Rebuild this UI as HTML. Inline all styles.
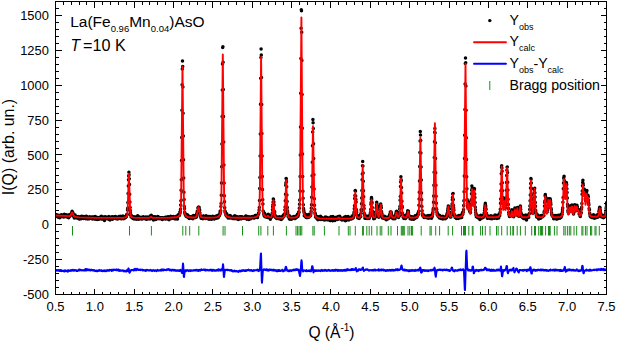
<!DOCTYPE html>
<html><head><meta charset="utf-8"><style>
html,body{margin:0;padding:0;background:#fff;}
svg{display:block;}
text{font-family:"Liberation Sans",sans-serif;}
</style></head><body>
<svg width="618" height="344" viewBox="0 0 618 344">
<rect width="618" height="344" fill="#fff"/>
<defs><clipPath id="c"><rect x="55" y="1" width="552" height="294"/></clipPath></defs>
<g clip-path="url(#c)">
<path d="M72.5 226v9.5M129.5 226v9.5M151.4 226v9.5M182.8 226v9.5M185.8 226v9.5M189.7 226v9.5M198.8 226v9.5M223.1 226v9.5M225 226v9.5M242.5 226v9.5M258.7 226v9.5M260.9 226v9.5M267.8 226v9.5M273.4 226v9.5M286.4 226v9.5M296 226v9.5M297.4 226v9.5M299 226v9.5M300.4 226v9.5M301.8 226v9.5M312.9 226v9.5M314.2 226v9.5M324.4 226v9.5M339 226v9.5M348.3 226v9.5M350 226v9.5M355.3 226v9.5M362.6 226v9.5M363.4 226v9.5M366.8 226v9.5M369.2 226v9.5M371.7 226v9.5M377 226v9.5M380.2 226v9.5M381.8 226v9.5M388.3 226v9.5M391 226v9.5M397.5 226v9.5M401.3 226v9.5M402.3 226v9.5M403.3 226v9.5M404.3 226v9.5M408 226v9.5M409.8 226v9.5M411.5 226v9.5M412.6 226v9.5M421.2 226v9.5M430 226v9.5M431.2 226v9.5M435.7 226v9.5M439.6 226v9.5M448.2 226v9.5M452.6 226v9.5M461.5 226v9.5M463.5 226v9.5M464.5 226v9.5M465.5 226v9.5M468.8 226v9.5M472.3 226v9.5M473 226v9.5M480.6 226v9.5M482.5 226v9.5M485.3 226v9.5M490 226v9.5M496.5 226v9.5M498.1 226v9.5M501.7 226v9.5M507.2 226v9.5M510.4 226v9.5M512.8 226v9.5M513.6 226v9.5M517.2 226v9.5M520.4 226v9.5M525.3 226v9.5M531.7 226v9.5M534.5 226v9.5M535.5 226v9.5M538.7 226v9.5M540.4 226v9.5M541.5 226v9.5M542.6 226v9.5M545.6 226v9.5M548.5 226v9.5M549.5 226v9.5M550.2 226v9.5M554.4 226v9.5M557 226v9.5M563.8 226v9.5M565.2 226v9.5M567.4 226v9.5M569.3 226v9.5M570.8 226v9.5M574 226v9.5M576.7 226v9.5M581.9 226v9.5M582.9 226v9.5M585.4 226v9.5M587 226v9.5M590.5 226v9.5M591.7 226v9.5M595 226v9.5M596 226v9.5M599.3 226v9.5" stroke="#1a8c1a" stroke-width="1" fill="none"/>
<path d="M54.5 270.7L54.8 269.9L55 270.4L55.5 270.6L55.8 269.9L56 270.7L56.2 270.2L56.5 270.1L57 270.4L57.5 270.3L57.8 270.6L58 270.1L58.2 270.1L58.5 270.7L58.8 270.6L59 270.8L59.2 270.1L59.5 270.7L59.8 270.6L60 271L60.2 270.1L60.5 270.6L60.8 270.5L61 270.2L61.2 270.4L61.5 271.1L61.8 270.7L62 270.5L62.2 271L62.8 271.1L63 270.7L63.5 271.2L63.8 270.8L64 270.7L64.5 271.5L64.8 270.7L65 270.2L65.8 271L66 271.2L66.5 270.7L66.8 270.9L67 270.5L67.2 270.8L67.5 270.6L67.8 271.8L68.2 270.5L68.5 270.5L68.8 270.7L69 270.4L69.2 270.7L69.5 270.7L69.8 271L70 270.6L70.5 270.3L70.8 270.2L71 270.6L71.2 270.4L71.5 270.8L71.8 270.1L72 270.6L72.5 270.4L72.8 269.7L73 269.9L73.2 270.4L73.5 270.7L73.8 270.4L74 270.5L74.2 270.1L74.8 270L75 270.6L75.2 270.4L75.8 270.2L76 270.6L76.2 270.6L76.5 270.3L76.8 271L77 270.6L77.2 270.5L77.5 270.9L78 270.4L78.2 270.6L78.5 270L78.8 270.2L79 269.6L79.2 270.5L79.5 269.5L79.8 270.4L80 269.9L80.2 269.7L80.5 270L81 270.2L81.2 270.5L81.5 270.1L81.8 270.2L82 270L82.2 270.3L82.5 270.4L82.8 270.2L83 270.3L83.8 270.4L84 270.1L84.2 270L84.5 270.4L84.8 269.6L85 269.9L85.2 270.5L85.5 269L86 270L86.2 269.2L86.5 270.5L86.8 268.9L87 270.1L87.2 270.2L87.8 269.6L88 269.8L88.2 269.5L88.5 270.1L88.8 269.6L89.2 270.2L89.5 269.8L89.8 269.9L90 270.1L90.2 269.8L90.5 270.5L90.8 270.3L91 269.7L91.2 270.1L91.5 269.8L92 270.2L92.2 270L92.5 270.4L92.8 270L93 270.5L93.2 270.3L93.5 270.6L93.8 270.1L94 270.2L94.2 270.1L94.5 270.6L94.8 270.7L95 271.1L95.2 271L95.5 270.7L95.8 270.6L96 270.9L96.2 270.8L96.5 271.2L96.8 271.1L97 270.6L97.2 270.7L97.5 271.2L98 270.5L98.2 271L98.5 270.5L99 270.4L99.2 270L99.5 270.8L99.8 270.3L100 270.4L100.2 270.3L100.5 270.8L100.8 270.6L101 270.8L101.2 270.4L101.5 270.9L101.8 270.3L102 270.8L102.2 270.8L102.5 270.7L102.8 271.2L103 270.7L103.2 270.7L103.5 270.5L103.8 270.5L104 270.8L104.2 271L104.5 270.3L104.8 271.2L105 271L105.2 271.1L105.5 271.1L105.8 270.5L106 270.4L106.2 271.3L106.8 270.3L107 270.8L107.2 270.6L107.8 270L108.2 270.8L108.8 270.5L109.2 270.7L109.5 269.8L109.8 270.3L110.2 270L110.5 270.3L110.8 270.3L111 270.2L111.2 269.7L111.8 271L112 270L112.2 269.7L112.5 270.2L112.8 270.3L113 270.3L113.2 269.7L113.5 270.4L113.8 269.8L114 269.6L114.2 269.7L114.8 270L115 269.9L115.2 269.7L115.5 270L115.8 269.7L116 270.1L116.2 269.4L116.5 269.4L116.8 270.2L117 269.4L117.2 269.8L118 269.8L118.2 270.5L118.5 269.4L118.8 270.5L119 270.9L119.2 270.3L119.5 270.3L119.8 270.5L120 270.9L120.2 270.1L120.5 270.5L120.8 270.4L121 270.7L121.5 270.7L121.8 270.4L122 270.6L122.2 270.4L123 270.6L123.2 270.5L123.5 271.3L124 270.6L124.2 271.4L124.5 270.9L124.8 271.2L125 271.1L125.5 271.2L125.8 271L126 271L126.2 271.6L126.5 270.3L126.8 270.9L127 271.2L127.5 270.3L127.8 271L128 269.4L128.2 269.3L128.5 268.4L128.8 269L129.2 271.9L129.5 272.8L129.8 272.5L130.2 271L130.5 271L130.8 270.8L131 270.1L131.2 270L131.5 270.3L131.8 270L132 270L132.2 269.9L132.8 270.2L133 270.2L133.2 269.8L133.5 270.4L133.8 269.6L134 270.6L134.2 269.9L134.5 269.8L134.8 269.5L135 268.7L135.2 269.5L135.5 269.7L135.8 270.2L136 269.2L136.2 270.3L136.5 269.6L136.8 269.8L137 268.8L137.2 269.5L137.5 269.5L137.8 269.8L138.2 269.4L138.5 270L139 269.9L139.2 270.1L139.5 270.1L140 269.5L140.2 269.5L140.5 270.2L140.8 270L141 269.8L141.8 269.8L142.2 269.6L142.5 270.5L142.8 270.1L143 270.1L143.2 269.9L143.5 270L143.8 270.3L144 270.5L144.2 270.2L144.8 270.2L145 270L145.2 270.7L145.5 270.4L145.8 271L146 270L146.2 270.1L146.5 270.3L147 269.7L147.5 270.3L147.8 270.3L148 270.1L148.2 270.4L148.5 270.5L148.8 270.2L149.2 270.2L149.8 270.5L150 270.2L150.2 270.3L150.8 269.9L151 270.1L151.2 270.7L151.5 270.6L151.8 271L152 270.6L152.5 270.9L152.8 270.6L153 270.1L153.5 270.5L153.8 270.3L154 270.7L154.2 270.8L154.5 270.4L154.8 271L155 270.4L155.8 270.2L156 270.6L156.2 270.6L156.5 271.1L156.8 270.7L157 270.6L157.5 269.9L157.8 270.3L158 270L158.2 270.5L158.5 270.2L158.8 270.8L159 270.4L159.2 270.4L159.8 270.2L160.2 270.4L160.5 269.9L160.8 270.2L161 270.7L161.2 269.9L161.8 269.6L162 269.3L162.2 270.2L162.5 269.9L162.8 269.9L163 270.3L163.2 270.5L163.5 269.5L163.8 270L164.8 269.7L165 270.1L165.2 269.9L165.8 270L166.5 269.6L166.8 270.2L167 269.7L167.2 269.6L167.5 269.3L167.8 269.5L168 269.4L168.2 269.7L168.5 269.7L168.8 269.1L169 269.8L169.5 269.9L169.8 269.6L170 270.4L170.2 269.9L170.5 269.7L170.8 269.8L171.2 270.4L171.5 270.6L172 269.8L172.2 270.1L172.5 269.9L172.8 270.2L173 269.7L173.2 270.2L173.5 270.5L173.8 270.2L174 270.4L174.5 269.8L174.8 270.1L175 270.7L175.2 270.7L175.5 270.2L175.8 270.7L176 270.3L176.2 270.8L176.8 270.3L177 270.9L177.2 270.4L177.8 270.2L178 270.7L178.2 270.6L178.5 270.6L178.8 270.4L179 271L179.2 270.4L179.5 270.3L179.8 270.9L180 270.8L180.5 269.9L181 270.6L181.2 270.8L181.5 271.9L181.8 271.9L182 273L182.2 271.9L182.5 270L182.8 265.8L183 263.6L183.2 265.1L183.8 276.2L184 277.1L184.5 272.9L184.8 271.6L185.2 270.2L185.5 270.4L185.8 270.5L186 271.2L186.2 270.9L186.5 270.9L186.8 270.6L187 269.9L187.2 270.4L187.5 270.2L187.8 270.7L188 270.7L188.2 270.4L188.5 270.5L188.8 271.1L189 270.2L189.5 270.6L189.8 270.4L190.5 271.1L190.8 270.3L191 270.7L192 270.4L192.2 270.8L192.5 270.5L193 270.5L193.5 270.3L193.8 270.6L194 270.3L194.2 270.4L194.8 269.9L195.2 269.9L195.5 270.4L196 269.8L196.2 270.2L196.5 270.3L196.8 269.7L197 270.8L197.2 270.2L197.5 270.1L197.8 270.6L198.2 270.1L198.5 271L198.8 270L199.2 270.5L199.5 269.9L199.8 270.2L200 270.2L200.2 270.7L200.5 269.8L200.8 269.9L201 270.2L201.5 269.4L201.8 270L202 269.8L202.2 269.8L202.5 270L202.8 270L203 269.8L203.2 269.8L203.5 269.5L203.8 269.8L204 269.9L204.2 269.6L204.5 269.8L204.8 269.6L205 270.3L205.2 270.5L205.5 269.7L205.8 270L206 269.9L206.2 270.4L206.8 270L207 270L207.2 270.1L207.5 269.9L207.8 270.3L208 270L208.2 270.3L208.5 270.2L208.8 270.5L209 270.2L209.2 270.5L209.5 269.9L209.8 270.3L210 270.1L210.2 270.2L210.5 270.1L210.8 270.4L211 269.6L211.2 270.5L211.5 270L211.8 270.8L212 269.8L212.2 270.2L212.5 269.9L212.8 270.9L213 270L213.2 270.4L213.5 270.2L213.8 269.8L214 270.4L214.2 270.6L214.5 270.4L214.8 270.6L215 270.2L215.2 270.4L215.5 270.3L215.8 270.5L216 270.8L216.2 270.4L216.5 270.3L216.8 270L217 269.9L217.2 270.5L217.5 269.8L218 270L218.2 269.9L218.5 270.6L218.8 269.3L219 270.2L219.2 270.3L219.5 269.8L220 270.2L220.2 270.6L220.5 269.8L220.8 269.6L221 270.4L221.2 270.4L221.8 269.1L222 270.2L222.5 268.6L223 264.3L223.2 265.3L223.8 276L224 277.1L224.2 275.6L224.8 270.8L225 269.8L225.2 269.9L226.5 269.8L226.8 270L227 269.7L227.2 269.9L227.5 269.8L227.8 270.3L228 270L228.2 269.8L228.5 270L228.8 270L229 270.1L229.2 270L229.5 270.4L229.8 270.4L230 270.1L230.2 270.1L230.5 270.6L230.8 270.5L231.2 270L231.5 270L231.8 270.8L232 271.1L232.2 271.2L232.5 270.7L232.8 271.5L233 271.1L233.2 271.4L233.5 271.4L233.8 271.1L234 271.1L234.2 270.6L234.5 271.1L234.8 270.7L235 271.3L235.2 271.2L235.5 271.4L236 270.9L236.2 271.2L236.5 271.1L236.8 271.5L237 271.4L237.2 271.1L237.5 271.6L238 271.4L238.2 271.8L238.5 272L238.8 271.4L239 271.4L239.2 270.8L239.5 271.3L239.8 271.2L240 270.6L240.2 271.3L240.5 271.4L240.8 270.9L241 271L241.2 270.8L241.5 271.1L241.8 270.2L242 270.4L242.2 271.1L242.5 270.5L242.8 270.6L243 270.5L243.2 270.1L243.5 270.5L243.8 270.7L244 270.3L244.2 270.9L244.5 271.1L244.8 271L245 270.3L245.2 270.5L245.5 270.2L245.8 271L246 271L246.2 270.9L246.5 270.3L246.8 270.1L247 270.5L247.2 270.4L247.5 270L247.8 270.3L248 270.3L248.8 269.6L249 270.2L249.2 270.5L249.8 270.3L250 270.2L250.2 270.6L250.5 270.2L250.8 270.2L251 270L251.2 270.2L251.5 270.6L251.8 270.3L252 270.3L252.2 270.4L252.5 271L252.8 270.7L253 271.1L253.2 270.6L253.5 270.5L253.8 270L254 270.2L254.2 270.6L254.5 270.2L254.8 270.4L255 270.4L255.2 270.2L256 270.3L256.5 270.2L256.8 270.2L257 269.8L257.2 269.9L257.5 269.7L257.8 270.4L258 269.6L258.5 271.1L258.8 270.1L259 269.9L259.2 270.1L259.5 270.5L260 269L260.2 265.4L260.8 254.4L261 253.4L261.8 280.8L262 282.7L262.8 271.1L263.2 269.9L263.5 269.8L263.8 269.4L264 269.6L264.2 269.6L264.5 269.8L264.8 269.4L265 269.8L265.2 270L265.5 269.7L265.8 269.9L266 269.7L266.2 270.3L266.5 269.2L266.8 269.9L267 269.5L267.5 270.5L267.8 269.9L268 270.1L268.2 269.8L268.5 270.6L268.8 270.3L269 270.4L269.2 269.5L269.5 269.5L269.8 270.2L270 269.9L270.5 270L270.8 269.5L271 270.2L271.2 269.8L271.5 270L271.8 269.7L272 270.2L272.2 269.9L272.5 270.3L272.8 270.6L273 270.5L273.5 270.4L273.8 269.6L274 270.7L274.2 270.4L274.5 270.6L274.8 270.4L275 270.1L275.2 270.2L275.8 270.9L276 270.3L276.2 270.2L276.5 271L276.8 270.4L277 271.4L277.2 270.7L277.5 270.4L277.8 270.9L278 271L278.2 270.1L278.5 270.9L278.8 270.4L279 270.9L279.5 270.1L279.8 270.7L280 270.8L280.2 271.1L280.5 271.1L280.8 270.7L281 270.5L281.2 270.5L281.5 270.6L281.8 270.4L282 270.6L282.2 269.8L282.5 270.7L282.8 270.5L283 271.4L283.2 270.8L283.5 270.6L283.8 270.9L284 270.3L284.2 270.5L284.5 269.9L284.8 270.7L285 269.9L285.5 267.7L285.8 266.9L286 266.8L286.8 269.5L287.2 270.8L287.5 270.4L287.8 270.4L288 271L288.2 270.4L288.5 271.1L288.8 270.8L289 270.9L289.2 271.2L289.5 270.8L289.8 270.6L290 270.1L290.2 270.1L290.8 270.8L291 270.7L291.2 271.1L291.5 270.4L291.8 270.3L292 270.5L292.2 270.3L292.5 270.4L292.8 270.1L293 270.5L293.2 269.8L293.5 270.3L293.8 269.6L294 270.2L294.2 269.7L294.5 270.3L294.8 269.6L295.2 270.3L295.5 269.7L295.8 270L296 269.7L296.2 269.1L296.5 269.8L296.8 269.9L297 269.4L297.2 269.9L297.5 269.4L297.8 269.5L298 269.9L298.2 269.7L298.5 270.6L298.8 269.8L299.2 272.7L299.5 273.7L299.8 275.4L300 276.1L300.5 272.7L300.8 270.3L301.2 262.8L301.5 260.3L301.8 262L302.2 268.8L302.5 270.7L302.8 270.7L303 271.5L303.2 271.1L303.5 270.9L303.8 270.2L304 270.5L304.8 270.4L305 270.8L305.5 271L305.8 270.7L306 271.2L306.2 271L306.5 270.1L306.8 270.6L307.2 271.1L307.5 270.8L308 270.6L308.2 271L308.5 270.7L309 270.5L309.2 271L309.8 270.3L310 271.2L310.2 270.8L310.5 271.1L310.8 271L311 271.2L311.2 270.9L311.8 268.5L312 266.7L312.2 266.3L312.5 266.2L313.5 272.4L314.2 271L314.5 270.9L314.8 270.7L315 270.1L315.2 270.9L315.5 270.4L315.8 270.4L316 271.1L316.8 270.3L317 270.7L317.2 270.9L317.8 270.4L318 270.4L318.2 270.3L318.5 270.8L318.8 270.9L319 270.9L319.2 270.4L319.8 270.6L320 270.2L320.2 270.4L320.5 271.1L320.8 270.5L321 270.7L321.2 270.2L321.5 270.4L321.8 269.9L322.2 270.7L322.5 270.9L322.8 270.6L323 270.7L323.2 270.4L323.5 270.3L324 270.7L324.2 270.2L324.5 270.7L324.8 270.2L325 269.9L325.2 270.1L325.5 269.9L325.8 270L326 270.7L326.2 270.3L327 270.9L327.2 270.4L327.5 270.8L327.8 270.5L328.2 270.5L328.5 269.9L328.8 270.1L329.2 270.6L329.5 270.3L329.8 270.4L330 270.7L330.2 270.9L330.5 270.7L330.8 270.8L331 270.3L331.2 270.3L331.5 270.5L331.8 270.2L332 270.2L332.2 270.8L332.5 270.3L332.8 270.1L333 270.4L333.2 270.9L333.5 270.3L333.8 270.7L334 270.2L334.5 270.1L334.8 270.3L335 270.8L335.2 269.8L335.5 270.7L335.8 269.8L336 270L336.2 270.4L336.8 270.3L337 269.7L337.2 270.4L337.5 270L337.8 271.1L338 270.2L338.2 270.4L338.5 270L338.8 270.2L339 270L339.2 270.6L339.5 270.3L339.8 270.6L340 270.2L340.2 270.2L340.5 270.7L340.8 270.2L341 270L341.2 270.7L341.5 270.2L342 270.8L342.2 270.2L342.5 270.7L342.8 270.2L343 270.9L343.2 270.7L343.5 270.1L343.8 270.1L344 270L344.5 270.7L344.8 269.9L345 270.7L345.2 270L345.5 270L345.8 269.7L346 270.8L346.2 270.1L346.5 270L346.8 269.8L347 270.1L347.2 269.1L347.8 270.2L348 269.4L348.5 269.9L348.8 269.5L349.2 270.2L349.5 269.9L349.8 269.9L350 269.7L350.2 269.8L350.5 269.7L350.8 270.2L351.2 269.6L351.5 269L351.8 269.9L352 269.9L352.5 269.1L352.8 269.3L353 269.9L353.2 269.3L354 270L354.2 269.7L354.8 269.3L355 269.7L355.8 268L356 268.7L356.2 270.1L356.5 270.6L356.8 271.5L357.8 270.2L358 269.8L358.2 269.9L358.5 270.6L358.8 269.3L359 269.5L359.2 269.9L359.5 269.4L360 269.2L360.2 269.8L360.5 270L360.8 269.9L361 269.7L361.2 269.9L361.5 269.2L361.8 269.4L362 268.8L362.2 268.5L362.5 268L363 267.5L363.2 269.3L363.5 270L364 270.9L364.2 270.1L364.5 270.2L364.8 270.1L365 269.8L365.2 270L365.5 269.7L365.8 269.8L366 269.4L366.2 269.8L366.5 269.4L367 269.5L367.2 269.7L367.5 269.3L367.8 269.5L368 270L368.2 270.2L369 270.7L369.2 270.5L369.5 270.5L369.8 270L370.2 270.1L370.8 270.3L371 270.1L371.2 270.1L371.5 270.4L371.8 270.3L372 270.5L372.2 270.2L372.8 270L373 270.4L373.8 269.9L374 270.6L374.2 269.7L374.8 270L375 269.5L375.5 270.5L376 270.2L376.2 270.2L376.5 270.2L376.8 270.3L377.2 269.9L377.8 270.2L378 270.1L378.2 270.3L378.5 269.3L378.8 270.3L379 270.6L379.2 270.4L379.5 269.9L379.8 269.7L380 270.1L380.2 269.8L380.5 270.3L380.8 269.9L381 270.3L381.2 270.5L381.5 269.5L381.8 270.1L382 269.7L382.2 269.7L382.8 269.9L383 270.3L383.2 269.5L383.5 270.3L383.8 270.6L384 270.3L384.2 270.4L384.5 270.2L384.8 269.9L385 270.5L385.5 270.4L385.8 271L386 270.6L386.2 270.4L386.5 270.8L386.8 269.9L387 269.9L387.2 270.3L387.5 270.1L387.8 270.6L388 270.1L388.2 270.7L388.5 270.6L389 270.1L389.2 270.5L389.5 270.5L389.8 269.9L390 270.4L390.2 270.3L390.5 270.1L390.8 270.7L391 270.7L391.2 269.9L391.5 270.1L391.8 269.9L392 270.4L392.2 269.8L392.5 270.5L392.8 270.3L393 270.4L393.2 270.2L393.5 269.8L393.8 270.7L394 270L394.2 270.3L394.5 270L394.8 270L395 270.3L395.2 270L395.5 270.3L395.8 269.3L396 269.9L396.2 269.5L396.5 269.6L396.8 269.9L397 269.9L397.2 270.2L397.5 269.1L397.8 269.7L398 269.5L398.2 270.1L398.5 269.6L398.8 269.9L399 269.6L399.2 269.9L399.5 270L399.8 269.6L400 269.6L400.2 269.2L400.5 269.3L400.8 268.4L401 266.7L401.2 266.4L401.5 265.4L401.8 266.2L402.2 268.9L402.5 269.6L402.8 269.9L403.2 270.2L403.8 269.6L404 269.7L404.2 270.6L404.5 269.4L405 270.5L405.5 269.8L406 270.4L406.2 270.6L406.5 270L406.8 270.3L407 270.3L407.2 270.6L407.5 270.8L407.8 270.3L408 270.1L408.5 271.1L409 270.6L409.2 271.2L409.5 270.2L409.8 270.7L410 270.2L410.5 270.4L410.8 270.9L411 270.2L411.2 270.3L411.5 270L411.8 270.7L412 270.3L412.2 270.6L412.5 270.1L412.8 270.3L413 270.7L413.2 270.3L413.5 270.7L413.8 270.7L414.2 270.1L414.5 270.8L414.8 270.6L415 270.9L415.2 269.9L415.5 269.9L415.8 269.8L416.2 270.7L417 270.3L417.2 270.5L417.5 270.1L417.8 270.3L418 270.2L418.2 269.5L418.8 270.6L419 270.1L419.2 269.9L420 268.2L420.2 267.5L420.5 268.1L420.8 269.4L421 272.2L421.2 272.6L421.5 272.3L421.8 272.2L422 271.4L422.2 270L422.5 270.6L423 270.2L423.2 270.7L423.5 270L423.8 270.2L424 270.1L424.2 270.3L424.5 270.9L424.8 270.2L425 270.1L425.2 270.3L425.5 270.7L425.8 270.6L426 270.9L426.2 270.5L426.5 270.2L427 270.7L427.2 270.4L427.8 271.2L428 270.4L428.2 270.6L428.5 271L428.8 270.3L429.2 270.2L429.5 270.6L429.8 270.6L430 270.3L430.2 270.3L430.5 270.6L430.8 270.5L431 269.8L431.2 270.1L431.8 270.5L432 270.2L432.5 270L432.8 269.6L433 270.2L433.2 270L433.5 270.2L433.8 269.5L434 269.3L434.5 267.6L434.8 268.3L435 269.9L435.2 273.3L435.5 275.6L435.8 276.8L436.5 271.4L437 270.2L437.2 269.9L437.5 270.2L437.8 270L438.2 270.2L438.5 269.8L438.8 269.8L439 269.9L439.2 269.5L439.5 269.8L440 270L440.5 269.6L440.8 269.8L441 269.8L441.2 270.2L441.5 269.7L441.8 269.7L442 270L442.2 269.7L442.5 269.9L442.8 270.5L443.5 269.9L443.8 269.6L444 269.9L444.2 269.7L444.8 269.6L445 269.9L445.2 269.8L445.8 270.3L446 270.1L446.2 269.6L446.5 269.8L446.8 269.5L447 269.8L447.2 270.2L447.5 270.3L447.8 270L448 270.4L448.5 270.1L448.8 270.1L449 270.2L449.2 270.9L449.5 270.1L449.8 270.9L450 270.9L450.2 270.4L450.5 270.4L451 269.9L451.2 269.3L451.5 268L451.8 267.6L452 267.6L452.2 267.9L452.5 269L453 270.6L453.2 270.3L453.5 270.9L453.8 270.8L454 270.5L454.2 271.4L454.5 270.6L454.8 270.5L455 270.9L455.2 270.1L455.5 270.4L455.8 270.1L456 270.2L456.8 270.8L457 270.7L457.2 270.9L457.8 270.1L458 270.4L458.2 269.8L458.5 269.8L458.8 270.3L459.2 269.9L459.5 270.1L459.8 270.2L460 269.5L460.2 269.8L460.5 269.4L460.8 269.9L461 269.7L461.2 270.3L461.5 270.1L461.8 269.7L462 269.9L462.2 269.7L462.5 270L462.8 270L463 269.9L463.2 269.3L463.8 270.3L464 271.8L464.2 276L464.8 289.6L465 290L465.2 284L466 258.5L466.2 251.9L466.5 250.6L467 263.8L467.2 267.8L467.5 269.2L467.8 269.8L468.2 270.5L468.5 270.4L468.8 270.4L469 269.6L469.2 270.2L469.5 270.3L470 270.4L470.2 270.1L470.5 270.8L470.8 270.7L471 270.2L471.2 270L471.5 270.6L471.8 269.7L472 269.6L472.2 268.9L472.5 266.9L472.8 266.5L473 266.6L473.8 273.3L474 273.2L474.2 272.4L474.5 271.9L474.8 270.9L475 270.5L475.2 271.1L475.5 270.1L476 270.5L476.5 269.8L476.8 270.8L477 270.2L477.2 270.4L478 270.1L478.2 270.5L478.5 271.2L478.8 270.6L479 270.7L479.2 269.9L479.5 270.4L479.8 270L480 270.5L480.2 270.2L481 270.1L481.2 269.6L481.5 270.4L481.8 269.8L482.2 270.3L482.5 270L483 270.3L483.2 270L483.5 269.8L483.8 269.7L484 269.9L484.2 269L484.5 269.4L485 267.8L485.5 267.7L486 269.1L486.2 268.6L486.8 270.3L487 270L487.2 270.1L487.8 269.3L488 269.6L488.2 270.2L488.5 270.3L488.8 269.8L489.2 270.2L489.5 269.5L489.8 269.9L490 270.7L490.2 270.9L490.5 270.2L490.8 270.8L491 270L491.2 269.9L491.5 269.5L491.8 270.4L492 270.1L492.2 270.9L492.5 270.5L492.8 270.4L493 269.8L493.2 270.8L493.5 270.4L493.8 270.4L494 269.9L494.2 270.8L494.5 270.7L494.8 270.3L495 270.5L495.5 270.7L495.8 270.4L496 270.8L496.2 270.2L496.8 270.1L497 269.4L497.5 270.4L498 270L498.2 270.4L498.5 269.5L498.8 270.2L499.2 270.4L499.5 270L499.8 270.5L500 270.6L500.2 269.6L500.5 269.2L500.8 267.4L501 266.5L501.2 268.1L501.8 274.1L502 276.2L502.2 276.4L503.2 270L503.5 270.5L503.8 270.4L504 270.4L504.2 270.2L504.5 270.8L504.8 270.1L505 270.3L505.2 269.5L505.5 269.8L506 269L506.2 267.9L506.5 266.1L507 266.3L507.5 272L507.8 272.9L508 273.2L508.5 270.9L508.8 271.1L509 270.3L509.2 270.3L509.5 269.9L509.8 269.8L510.2 270.1L510.5 270L510.8 270.5L511 269.6L511.2 269.9L511.5 269.6L511.8 270.6L512 270L512.2 270L512.5 269.6L512.8 269.8L513 268.8L513.2 268.6L513.5 267.9L513.8 269.4L514.5 272.4L515 271.4L515.2 271L516.2 268.5L516.5 268.5L517 269L517.2 270.2L517.5 269.8L518 271.8L518.5 271.9L518.8 272.5L519.2 270.5L519.5 270.8L519.8 270L520 269.9L520.2 270.1L520.5 270.1L520.8 269.9L521 270L521.2 269.9L521.5 270.2L521.8 270.2L522 270.5L522.5 270L522.8 270L523.2 270.8L523.5 270.6L523.8 270.2L524 270.5L524.2 269.8L524.5 270.3L524.8 270L525 270.3L525.2 270.3L525.5 270L525.8 270.1L526 269.7L526.5 270.4L526.8 271.3L527 270.3L527.5 269.7L527.8 270.3L528 269.5L528.5 270.1L528.8 269.6L529 270.5L529.2 270.4L529.5 269.8L529.8 269.4L530.2 267.2L530.5 267.3L530.8 268.2L531.2 272.7L531.5 273.6L531.8 273.6L532 271.9L532.2 271.1L532.8 270.6L533 269.8L533.2 269.9L533.8 270.6L534 269.6L534.5 270.1L534.8 270.5L535 269.9L535.2 270.3L535.5 270.1L535.8 270.9L536 270.4L536.5 270L536.8 270.5L537 270.4L537.2 269.9L537.5 270.4L537.8 269.8L538 270L538.2 269.7L538.5 269.8L538.8 270L539 269.9L539.2 270.2L539.5 270.2L540 269.8L540.2 270.4L540.5 269.6L540.8 269.6L541 270.3L541.2 270.3L541.5 270.4L542 269.6L542.5 270.3L542.8 269.8L543 269.9L543.2 269.7L543.5 269.9L543.8 270.5L544 270.4L544.2 270L544.8 270.1L545 270.4L545.2 270L545.5 270.4L545.8 269.8L546 270L546.2 270.5L546.5 270.7L546.8 270.1L547 270.2L547.2 270.7L547.5 270.3L547.8 270.4L548 270.7L548.2 270.7L548.5 270.9L548.8 270.8L549 270.4L549.2 270.5L549.5 270.5L549.8 269.9L550 269.8L550.2 270.4L550.5 269.5L550.8 270.4L551 270.2L551.2 270L551.5 270.3L551.8 270.2L552 270.4L552.2 269.9L552.5 270L552.8 269.9L553 270.5L553.2 270.3L553.5 269.8L553.8 269.9L554 269.8L554.2 270.1L554.5 270.2L554.8 270.8L555 269.5L555.2 270.4L555.5 270.1L555.8 269.6L556 269.9L556.2 269.9L556.8 270.5L557 269.7L557.2 270.5L557.5 270L557.8 270.5L558 270.2L558.2 270.4L558.5 270.1L558.8 270.4L559 270.1L559.2 270L559.5 270.6L559.8 270.6L560 271.1L560.2 269.8L560.8 270.7L561 270L561.2 270.3L561.5 271L561.8 270.9L562 270.3L562.2 270.9L563.2 270.7L563.5 270.1L563.8 270L564 269.6L564.2 268.4L564.5 267.9L564.8 266.9L565 267.3L565.5 271L565.8 271.8L566 271.5L566.2 270.7L566.5 271L566.8 270.1L567 270.4L567.5 269.8L567.8 270.6L568 269.4L568.5 270.3L568.8 269.9L569 270.1L569.2 269.7L569.5 269.4L569.8 270.3L570 269.6L570.2 269.8L570.5 269.7L570.8 269.8L571 270.3L571.2 270.4L571.8 270L572 270.5L572.2 269.8L572.5 270.1L573 269.9L573.2 270.1L573.5 269.9L573.8 269.8L574 270.7L574.2 270.3L574.5 270.4L574.8 270.2L575 270.3L575.5 270.4L575.8 270.8L576 270.1L576.2 270.2L576.5 270.2L576.8 269.2L577.2 270.4L577.5 270.6L577.8 270.2L578 270.7L578.2 270.9L578.5 270.3L578.8 270.9L579 271.2L579.2 270.9L579.5 270.4L579.8 271L580 270.6L580.2 270.4L580.5 270.4L580.8 270.2L581 270.6L581.5 270.2L581.8 269.1L582.2 266L582.5 265.9L582.8 266.9L583 270.6L583.5 273.2L583.8 273.3L584.2 271.1L584.5 270.6L585 270.8L585.2 270.7L585.5 270.4L585.8 270.6L586 270.5L586.2 270.6L586.5 269.4L586.8 270L587.2 270L587.8 270.5L588 270.5L588.2 270.2L588.5 270.3L588.8 270.8L589 269.9L589.2 270.2L589.5 270.6L589.8 270.3L590 269.5L590.2 270.3L590.5 270.2L591 270.6L591.2 270.4L591.5 270.1L591.8 270.5L592.2 270.2L592.5 270.2L592.8 270.2L593 269.9L593.5 270L594 269.6L594.2 270.3L594.5 269.8L595 269.7L595.2 269.8L595.8 269.8L596 269.6L596.2 270.1L596.5 269.6L596.8 270.1L597 269.3L597.5 270.2L597.8 269.8L598 269.6L598.2 269.8L598.5 269.5L598.8 269.8L599 269.1L599.2 269.6L599.5 269.6L599.8 269.8L600 269.9L600.2 269.3L600.5 270L600.8 269.2L601 268.9L601.2 268.7L601.5 269.9L601.8 269.4L602.5 269.1L602.8 269.9L603 269.5L603.2 270.2L603.8 268.9L604 269.9L604.2 269.5L604.5 269.6L604.8 270.1L605 269.6L605.2 269.9L605.5 269.6L605.8 269.5L606 269.9L606.2 269.6L606.5 270.2L606.8 270.1L607 269.7L607.5 269.7L607.8 269.6" stroke="#0000ff" stroke-width="2" fill="none" stroke-linejoin="round"/>
<path d="M54.5 215.5h0M54.7 215.3h0M54.9 215.8h0M55.1 216.3h0M55.3 215.9h0M55.5 216.4h0M55.7 215.5h0M55.9 214.4h0M56.1 216h0M56.3 216.1h0M56.5 215.2h0M56.7 215.3h0M56.9 215.5h0M57.1 216.4h0M57.3 215.6h0M57.5 215h0M57.7 216.7h0M57.9 216h0M58.1 217.2h0M58.3 216.7h0M58.5 217.2h0M58.7 215.8h0M58.9 216.7h0M59.1 215.4h0M59.3 215.5h0M59.5 215.8h0M59.7 217.8h0M59.9 216.1h0M60.1 215.7h0M60.3 215.6h0M60.5 217h0M60.7 216.1h0M60.9 216.5h0M61.1 216.4h0M61.3 214.8h0M61.5 216.4h0M61.7 215.8h0M61.9 215h0M62.1 216.2h0M62.3 215.9h0M62.5 215.7h0M62.7 215.7h0M62.9 216.8h0M63.1 215.7h0M63.3 214.7h0M63.5 217.1h0M63.7 215.1h0M63.9 215.7h0M64.1 216.4h0M64.3 214.2h0M64.5 215.2h0M64.7 216.8h0M64.9 215.8h0M65.1 215.4h0M65.3 216h0M65.5 215.3h0M65.7 216h0M65.9 215.4h0M66.1 214.8h0M66.3 216.5h0M66.5 215.8h0M66.7 216.4h0M66.9 215.9h0M67.1 217h0M67.3 216.5h0M67.5 216.2h0M67.7 215.3h0M67.9 215.1h0M68.1 217.2h0M68.3 216.8h0M68.5 215.6h0M68.7 217.8h0M68.9 216.5h0M69.1 216.2h0M69.3 215h0M69.5 215.4h0M69.7 216.2h0M69.9 216.1h0M70.1 215.9h0M70.3 214.2h0M70.5 215.5h0M70.7 215h0M70.9 214.1h0M71.1 214h0M71.3 213.6h0M71.5 214h0M71.7 212.6h0M71.9 212.8h0M72.1 211.3h0M72.3 211.8h0M72.5 212.7h0M72.7 212.5h0M72.9 213.9h0M73.1 213.2h0M73.3 214.7h0M73.5 214.6h0M73.7 216.6h0M73.9 215.5h0M74.1 217.5h0M74.3 218h0M74.5 216.7h0M74.7 217.3h0M74.9 216.5h0M75.1 214.9h0M75.3 217.5h0M75.5 217.4h0M75.7 216.7h0M75.9 216.5h0M76.1 217.1h0M76.3 217.2h0M76.5 216.5h0M76.7 216.6h0M76.9 217.9h0M77.1 217.2h0M77.3 217.1h0M77.5 218h0M77.7 217h0M77.9 217.9h0M78.1 216.5h0M78.3 217.1h0M78.5 217.2h0M78.7 217.8h0M78.9 217.4h0M79.1 219h0M79.3 218.3h0M79.5 217.1h0M79.7 219.1h0M79.9 216.7h0M80.1 218.8h0M80.3 216.8h0M80.5 218.1h0M80.7 216.8h0M80.9 217.3h0M81.1 218.7h0M81.3 216.5h0M81.5 216.3h0M81.7 217.5h0M81.9 217.7h0M82.1 217.6h0M82.3 218.3h0M82.5 216.6h0M82.7 217.9h0M82.9 217.6h0M83.1 218.2h0M83.3 218h0M83.5 218.6h0M83.7 216.5h0M83.9 217.7h0M84.1 216.8h0M84.3 217.6h0M84.5 218.1h0M84.7 217.8h0M84.9 218h0M85.1 217.6h0M85.3 217.9h0M85.5 217.8h0M85.7 218.7h0M85.9 218.3h0M86.1 216.3h0M86.3 218.2h0M86.5 218.5h0M86.7 217.4h0M86.9 216.5h0M87.1 218.8h0M87.3 217.8h0M87.5 218.2h0M87.7 219.1h0M87.9 217.1h0M88.1 217.7h0M88.3 217.6h0M88.5 218.3h0M88.7 217.3h0M88.9 218.1h0M89.1 217.8h0M89.3 218.6h0M89.5 218.7h0M89.7 216.7h0M89.9 218.1h0M90.1 217.5h0M90.3 217.8h0M90.5 218.1h0M90.7 218.2h0M90.9 217.3h0M91.1 218h0M91.3 217.9h0M91.5 217.8h0M91.7 216.9h0M91.9 217.3h0M92.1 217.5h0M92.3 218.3h0M92.5 218.9h0M92.7 217.1h0M92.9 217.1h0M93.1 217.9h0M93.3 217.4h0M93.5 217.2h0M93.7 217.2h0M93.9 217.1h0M94.1 218.2h0M94.3 216.7h0M94.5 218.9h0M94.7 217.2h0M94.9 217.5h0M95.1 217.2h0M95.3 216.4h0M95.5 216.7h0M95.7 218.8h0M95.9 219.2h0M96.1 217.2h0M96.3 218.7h0M96.5 217.9h0M96.7 217.2h0M96.9 219.2h0M97.1 219.6h0M97.3 217.7h0M97.5 217.9h0M97.7 218.1h0M97.9 217.9h0M98.1 218.6h0M98.3 219.1h0M98.5 218h0M98.7 218.7h0M98.9 219.2h0M99.1 217.5h0M99.3 217.9h0M99.5 217.6h0M99.7 218.7h0M99.9 218.4h0M100.1 218.7h0M100.3 218.6h0M100.5 217.7h0M100.7 218.5h0M100.9 217.6h0M101.1 217.6h0M101.3 216.3h0M101.5 219h0M101.7 217.2h0M101.9 218h0M102.1 217.9h0M102.3 219h0M102.5 218.3h0M102.7 217.3h0M102.9 218h0M103.1 217.8h0M103.3 218.1h0M103.5 217h0M103.7 217.9h0M103.9 219.6h0M104.1 218.4h0M104.3 219.5h0M104.5 220.5h0M104.7 218.3h0M104.9 216.8h0M105.1 217.9h0M105.3 218.8h0M105.5 218.6h0M105.7 217h0M105.9 217.8h0M106.1 217.9h0M106.3 217.9h0M106.5 217.9h0M106.7 217.3h0M106.9 217.5h0M107.1 217.7h0M107.3 218.7h0M107.5 217.5h0M107.7 218.4h0M107.9 217h0M108.1 218.9h0M108.3 218h0M108.5 217.9h0M108.7 219h0M108.9 216.5h0M109.1 216.7h0M109.3 218.3h0M109.5 217.3h0M109.7 217.6h0M109.9 220h0M110.1 217.7h0M110.3 217.9h0M110.5 217.8h0M110.7 218.8h0M110.9 218.1h0M111.1 218h0M111.3 217h0M111.5 217.6h0M111.7 217.9h0M111.9 216.7h0M112.1 218.3h0M112.3 218.2h0M112.5 219.3h0M112.7 216.7h0M112.9 217.1h0M113.1 217.2h0M113.3 217.4h0M113.5 217.8h0M113.7 217.7h0M113.9 218.1h0M114.1 218.1h0M114.3 217.8h0M114.5 216.7h0M114.7 217.4h0M114.9 217.9h0M115.1 218.3h0M115.3 218.4h0M115.5 216.6h0M115.7 217.5h0M115.9 217.8h0M116.1 218.2h0M116.3 218.8h0M116.5 217.9h0M116.7 217.2h0M116.9 218.2h0M117.1 218.1h0M117.3 218h0M117.5 217.8h0M117.7 219.1h0M117.9 218h0M118.1 218.5h0M118.3 217.2h0M118.5 218.5h0M118.7 217.4h0M118.9 216.6h0M119.1 218.1h0M119.3 218.3h0M119.5 217.7h0M119.7 217.8h0M119.9 218.6h0M120.1 217.5h0M120.3 216.2h0M120.5 218h0M120.7 218h0M120.9 218.6h0M121.1 217.5h0M121.3 218.8h0M121.5 218.7h0M121.7 216.8h0M121.9 218.5h0M122.1 216.9h0M122.3 216.5h0M122.5 217.5h0M122.7 217.3h0M122.9 216.1h0M123.1 217.8h0M123.3 218.1h0M123.5 218.7h0M123.7 217.6h0M123.9 216.4h0M124.1 216.8h0M124.3 218.3h0M124.5 218.2h0M124.7 217.9h0M124.9 217.2h0M125.1 217.5h0M125.3 217.1h0M125.5 217h0M125.7 217.4h0M125.9 217h0M126.1 216.7h0M126.3 216.8h0M126.5 216h0M126.7 214.5h0M126.9 215h0M127.1 214.5h0M127.3 214.4h0M127.5 210h0M127.7 208.3h0M127.9 202.6h0M128.1 193.6h0M128.3 186.1h0M128.5 179.7h0M128.7 175.9h0M128.9 172.2h0M129.1 174.7h0M129.3 178.8h0M129.5 184.4h0M129.7 194.2h0M129.9 201.9h0M130.1 207.6h0M130.3 210.4h0M130.5 213.1h0M130.7 215.5h0M130.9 215.4h0M131.1 217h0M131.3 215.5h0M131.5 215.8h0M131.7 216h0M131.9 217.4h0M132.1 216.7h0M132.3 217.3h0M132.5 217.6h0M132.7 217.6h0M132.9 218.5h0M133.1 218.6h0M133.3 216.9h0M133.5 217.7h0M133.7 217.4h0M133.9 216.8h0M134.1 219h0M134.3 218.3h0M134.5 217.5h0M134.7 217.4h0M134.9 218h0M135.1 216.9h0M135.3 217.6h0M135.5 218.7h0M135.7 218.5h0M135.9 217.1h0M136.1 217.4h0M136.3 219.3h0M136.5 216.7h0M136.7 217.3h0M136.9 216.7h0M137.1 218.1h0M137.3 218.1h0M137.5 218.7h0M137.7 215.8h0M137.9 218h0M138.1 216.6h0M138.3 218.4h0M138.5 217.7h0M138.7 219.2h0M138.9 218.2h0M139.1 217.1h0M139.3 218.9h0M139.5 217h0M139.7 217.6h0M139.9 218.7h0M140.1 218.3h0M140.3 218.2h0M140.5 217.9h0M140.7 218.3h0M140.9 218.5h0M141.1 218.1h0M141.3 218.7h0M141.5 218.9h0M141.7 217.9h0M141.9 217.2h0M142.1 219.1h0M142.3 217.9h0M142.5 218.4h0M142.7 218.7h0M142.9 217.2h0M143.1 218.3h0M143.3 216.7h0M143.5 218.5h0M143.7 217.6h0M143.9 218.1h0M144.1 218.5h0M144.3 217.4h0M144.5 218h0M144.7 217.4h0M144.9 217.9h0M145.1 218.7h0M145.3 218h0M145.5 217.8h0M145.7 217.1h0M145.9 218.6h0M146.1 217.9h0M146.3 219.2h0M146.5 217.4h0M146.7 218.7h0M146.9 219.3h0M147.1 217.9h0M147.3 217h0M147.5 219.1h0M147.7 218.7h0M147.9 218.5h0M148.1 218.8h0M148.3 217.6h0M148.5 218.5h0M148.7 218.4h0M148.9 217.4h0M149.1 218.4h0M149.3 217.4h0M149.5 218.5h0M149.7 218.6h0M149.9 219h0M150.1 215.9h0M150.3 217.5h0M150.5 216.8h0M150.7 216.9h0M150.9 216.6h0M151.1 216.7h0M151.3 215.3h0M151.5 217.9h0M151.7 218.5h0M151.9 218.2h0M152.1 218.6h0M152.3 217.1h0M152.5 217.1h0M152.7 218.5h0M152.9 218.9h0M153.1 218.1h0M153.3 216.7h0M153.5 220.1h0M153.7 217.4h0M153.9 218.7h0M154.1 217h0M154.3 218.7h0M154.5 218.1h0M154.7 219.1h0M154.9 218.6h0M155.1 216.8h0M155.3 217.2h0M155.5 218.2h0M155.7 218.6h0M155.9 219.4h0M156.1 218.2h0M156.3 217.9h0M156.5 217.9h0M156.7 217.9h0M156.9 218.7h0M157.1 217.9h0M157.3 217.9h0M157.5 216.8h0M157.7 216.4h0M157.9 218h0M158.1 218.5h0M158.3 217.9h0M158.5 218.3h0M158.7 218.4h0M158.9 217.9h0M159.1 218.7h0M159.3 217.4h0M159.5 217.9h0M159.7 217.6h0M159.9 218h0M160.1 218.4h0M160.3 218.6h0M160.5 218h0M160.7 218.3h0M160.9 217.7h0M161.1 217.8h0M161.3 218.9h0M161.5 217.8h0M161.7 218.9h0M161.9 218.3h0M162.1 218.1h0M162.3 219.5h0M162.5 217.7h0M162.7 217.7h0M162.9 217.9h0M163.1 218.2h0M163.3 218.1h0M163.5 218.6h0M163.7 218h0M163.9 218.2h0M164.1 217.7h0M164.3 218.8h0M164.5 217.6h0M164.7 217.7h0M164.9 217.9h0M165.1 218.1h0M165.3 217.4h0M165.5 219.1h0M165.7 217.4h0M165.9 217.6h0M166.1 217.6h0M166.3 217.5h0M166.5 218.3h0M166.7 218h0M166.9 217.3h0M167.1 217.4h0M167.3 217.6h0M167.5 219h0M167.7 217.3h0M167.9 216.8h0M168.1 216.9h0M168.3 217.5h0M168.5 219h0M168.7 217h0M168.9 217.8h0M169.1 219.7h0M169.3 217.4h0M169.5 218.9h0M169.7 218.7h0M169.9 218.2h0M170.1 216.7h0M170.3 218h0M170.5 217.5h0M170.7 216.3h0M170.9 216.4h0M171.1 217.7h0M171.3 217.8h0M171.5 218.6h0M171.7 218.2h0M171.9 217.3h0M172.1 217.3h0M172.3 217.5h0M172.5 216.8h0M172.7 218.2h0M172.9 217.6h0M173.1 216.9h0M173.3 217h0M173.5 216.6h0M173.7 217.2h0M173.9 217.7h0M174.1 217.1h0M174.3 218.2h0M174.5 218.7h0M174.7 216.9h0M174.9 217.4h0M175.1 217.1h0M175.3 218.6h0M175.5 217.5h0M175.7 217.7h0M175.9 217.9h0M176.1 218.9h0M176.3 217.3h0M176.5 216.3h0M176.7 216.7h0M176.9 217.4h0M177.1 216.8h0M177.3 216.1h0M177.5 218.9h0M177.7 216.7h0M177.9 216h0M178.1 215.7h0M178.3 214.8h0M178.5 215.1h0M178.7 215.5h0M178.9 215.3h0M179.1 214.6h0M179.3 215.5h0M179.5 214.7h0M179.7 213.4h0M179.9 211.9h0M180.1 212.9h0M180.3 211.5h0M180.5 209.3h0M180.7 204.9h0M180.9 200.7h0M181.1 190.3h0M181.3 179.7h0M181.5 160.5h0M181.7 137.5h0M181.9 110.3h0M182.1 84.7h0M182.3 69.1h0M182.5 61h0M182.7 66.5h0M182.9 87h0M183.1 113.3h0M183.3 136h0M183.5 159.7h0M183.7 178h0M183.9 192.3h0M184.1 199.6h0M184.3 206.4h0M184.5 208.5h0M184.7 212.3h0M184.9 213.5h0M185.1 213.4h0M185.3 214.7h0M185.5 214h0M185.7 214.8h0M185.9 216.1h0M186.1 215.5h0M186.3 216.1h0M186.5 215.2h0M186.7 216.7h0M186.9 216.6h0M187.1 215.4h0M187.3 214.7h0M187.5 215h0M187.7 216.7h0M187.9 216.6h0M188.1 215.6h0M188.3 217h0M188.5 217.8h0M188.7 216.9h0M188.9 216.7h0M189.1 217.8h0M189.3 218.5h0M189.5 218.3h0M189.7 216.7h0M189.9 217.9h0M190.1 217.4h0M190.3 217.1h0M190.5 216.8h0M190.7 217.6h0M190.9 216.9h0M191.1 218.1h0M191.3 217.7h0M191.5 218.2h0M191.7 216.5h0M191.9 217.4h0M192.1 218h0M192.3 217.7h0M192.5 217.6h0M192.7 216.9h0M192.9 218.7h0M193.1 218.3h0M193.3 217.7h0M193.5 215.4h0M193.7 216.6h0M193.9 217.5h0M194.1 216.8h0M194.3 215.7h0M194.5 217.5h0M194.7 217.6h0M194.9 216.3h0M195.1 216.8h0M195.3 216.6h0M195.5 217.4h0M195.7 215.3h0M195.9 215.2h0M196.1 215.8h0M196.3 215.3h0M196.5 217h0M196.7 214.1h0M196.9 214h0M197.1 212.5h0M197.3 211.2h0M197.5 211h0M197.7 211.1h0M197.9 208.1h0M198.1 208.3h0M198.3 207.3h0M198.5 207.4h0M198.7 207.3h0M198.9 209.8h0M199.1 207.3h0M199.3 209.3h0M199.5 209.7h0M199.7 210h0M199.9 212.9h0M200.1 215.4h0M200.3 215.4h0M200.5 216.4h0M200.7 216.3h0M200.9 216.3h0M201.1 218.3h0M201.3 216.6h0M201.5 218.3h0M201.7 217h0M201.9 217.4h0M202.1 217.6h0M202.3 217.5h0M202.5 217.9h0M202.7 218h0M202.9 218.8h0M203.1 217.5h0M203.3 216.1h0M203.5 216h0M203.7 216.5h0M203.9 217h0M204.1 218.1h0M204.3 216.4h0M204.5 217.7h0M204.7 217.7h0M204.9 217.9h0M205.1 217.6h0M205.3 218h0M205.5 217.7h0M205.7 218.5h0M205.9 217.9h0M206.1 215.8h0M206.3 217.7h0M206.5 217.8h0M206.7 217.2h0M206.9 217.1h0M207.1 218.5h0M207.3 217.8h0M207.5 216.9h0M207.7 217.4h0M207.9 217.6h0M208.1 216.4h0M208.3 218.2h0M208.5 217.6h0M208.7 218.1h0M208.9 216.5h0M209.1 219.2h0M209.3 218.2h0M209.5 218.1h0M209.7 217.1h0M209.9 217.1h0M210.1 216.5h0M210.3 218.9h0M210.5 217h0M210.7 217.8h0M210.9 218.1h0M211.1 217.2h0M211.3 218.3h0M211.5 219.2h0M211.7 217.9h0M211.9 218.8h0M212.1 218.1h0M212.3 217.3h0M212.5 217.3h0M212.7 216.3h0M212.9 217.7h0M213.1 218.7h0M213.3 218.1h0M213.5 218.2h0M213.7 218.4h0M213.9 217.1h0M214.1 217.9h0M214.3 219h0M214.5 216.8h0M214.7 217.4h0M214.9 217h0M215.1 217.2h0M215.3 216.8h0M215.5 217.2h0M215.7 216.2h0M215.9 216.8h0M216.1 216.8h0M216.3 216.7h0M216.5 218.2h0M216.7 217.1h0M216.9 217.1h0M217.1 216.7h0M217.3 217.9h0M217.5 215.4h0M217.7 216.5h0M217.9 217.5h0M218.1 217.8h0M218.3 216.5h0M218.5 216.2h0M218.7 216.5h0M218.9 215.6h0M219.1 216h0M219.3 214.8h0M219.5 215.5h0M219.7 214.6h0M219.9 213.3h0M220.1 211.3h0M220.3 213.6h0M220.5 212.1h0M220.7 210.7h0M220.9 206.4h0M221.1 203.6h0M221.3 195.3h0M221.5 182.9h0M221.7 166.8h0M221.9 144.1h0M222.1 116.4h0M222.3 90h0M222.5 64.1h0M222.7 47.5h0M222.9 46.7h0M223.1 62.3h0M223.3 89.6h0M223.5 116.4h0M223.7 141.9h0M223.9 165h0M224.1 182.9h0M224.3 195.7h0M224.5 201.8h0M224.7 207.7h0M224.9 211h0M225.1 212.4h0M225.3 211.5h0M225.5 213.3h0M225.7 213.1h0M225.9 215h0M226.1 214.1h0M226.3 215.7h0M226.5 215.6h0M226.7 213.7h0M226.9 215.3h0M227.1 216.5h0M227.3 216.3h0M227.5 216.1h0M227.7 215.5h0M227.9 217h0M228.1 218.1h0M228.3 217h0M228.5 216.8h0M228.7 216.8h0M228.9 215.9h0M229.1 216.8h0M229.3 216.4h0M229.5 218h0M229.7 216.5h0M229.9 215.5h0M230.1 216.6h0M230.3 217.1h0M230.5 217.2h0M230.7 215.9h0M230.9 218.1h0M231.1 217.5h0M231.3 217h0M231.5 216.8h0M231.7 217.8h0M231.9 217.2h0M232.1 217.7h0M232.3 217.4h0M232.5 217.6h0M232.7 218.5h0M232.9 217.6h0M233.1 216.9h0M233.3 218.3h0M233.5 217.8h0M233.7 217.1h0M233.9 218.5h0M234.1 217.5h0M234.3 218.5h0M234.5 216.7h0M234.7 215.8h0M234.9 216h0M235.1 217.8h0M235.3 217.1h0M235.5 217.6h0M235.7 217.6h0M235.9 216.4h0M236.1 218.7h0M236.3 216.8h0M236.5 217.7h0M236.7 216.6h0M236.9 217.6h0M237.1 218.2h0M237.3 217.5h0M237.5 217.1h0M237.7 217.7h0M237.9 217.3h0M238.1 218.1h0M238.3 219.4h0M238.5 217h0M238.7 217.2h0M238.9 217.6h0M239.1 217.7h0M239.3 216.9h0M239.5 218.1h0M239.7 218.3h0M239.9 217.9h0M240.1 216.8h0M240.3 218.8h0M240.5 216.8h0M240.7 218.3h0M240.9 218.6h0M241.1 216.7h0M241.3 217.8h0M241.5 218.8h0M241.7 218h0M241.9 217h0M242.1 216.8h0M242.3 218.1h0M242.5 217.4h0M242.7 217.2h0M242.9 218.3h0M243.1 217.5h0M243.3 217.8h0M243.5 218.2h0M243.7 218.1h0M243.9 217.7h0M244.1 217.7h0M244.3 218.2h0M244.5 218.1h0M244.7 216.9h0M244.9 217.6h0M245.1 217h0M245.3 216.8h0M245.5 217.3h0M245.7 215.9h0M245.9 218.4h0M246.1 217.1h0M246.3 218h0M246.5 216.2h0M246.7 216.4h0M246.9 219.3h0M247.1 218.5h0M247.3 217.2h0M247.5 217.1h0M247.7 217.1h0M247.9 217.7h0M248.1 217.3h0M248.3 217.2h0M248.5 217.7h0M248.7 216.8h0M248.9 219.5h0M249.1 217.1h0M249.3 218.5h0M249.5 216.9h0M249.7 217.8h0M249.9 218.3h0M250.1 217.3h0M250.3 218.3h0M250.5 218.3h0M250.7 218.8h0M250.9 217.6h0M251.1 217.2h0M251.3 216.7h0M251.5 217.6h0M251.7 216.7h0M251.9 217.5h0M252.1 217.6h0M252.3 217h0M252.5 216.6h0M252.7 217.7h0M252.9 217.6h0M253.1 217.5h0M253.3 217.3h0M253.5 218.1h0M253.7 216.5h0M253.9 217.6h0M254.1 216.9h0M254.3 217.9h0M254.5 216.9h0M254.7 216.8h0M254.9 217.4h0M255.1 215.4h0M255.3 216.7h0M255.5 215.4h0M255.7 216h0M255.9 217.3h0M256.1 217h0M256.3 216.2h0M256.5 216.4h0M256.7 216.2h0M256.9 216.4h0M257.1 217.4h0M257.3 215.9h0M257.5 217.4h0M257.7 214.9h0M257.9 215.5h0M258.1 215.1h0M258.3 214.2h0M258.5 213.1h0M258.7 213.8h0M258.9 212.8h0M259.1 210h0M259.3 207.5h0M259.5 200.6h0M259.7 188.6h0M259.9 177.4h0M260.1 156h0M260.3 134h0M260.5 104.3h0M260.7 78.3h0M260.9 57.6h0M261.1 48.9h0M261.3 55h0M261.5 77.6h0M261.7 104.5h0M261.9 133.5h0M262.1 156.1h0M262.3 176.5h0M262.5 189.4h0M262.7 199.7h0M262.9 203.9h0M263.1 210.9h0M263.3 211.5h0M263.5 211.7h0M263.7 213.7h0M263.9 214.7h0M264.1 214.7h0M264.3 216.1h0M264.5 215.1h0M264.7 213.5h0M264.9 214.8h0M265.1 216.8h0M265.3 216.8h0M265.5 216.5h0M265.7 215.4h0M265.9 217h0M266.1 216.9h0M266.3 215.5h0M266.5 215.5h0M266.7 216.4h0M266.9 216.9h0M267.1 217.1h0M267.3 216.2h0M267.5 217.4h0M267.7 214.9h0M267.9 216.1h0M268.1 215.3h0M268.3 214.3h0M268.5 215.1h0M268.7 217.2h0M268.9 215.8h0M269.1 215.7h0M269.3 217.5h0M269.5 217.8h0M269.7 217.2h0M269.9 218.5h0M270.1 216h0M270.3 219.2h0M270.5 218.1h0M270.7 217.4h0M270.9 217.3h0M271.1 216.9h0M271.3 216.7h0M271.5 216.8h0M271.7 215.2h0M271.9 217.1h0M272.1 214.1h0M272.3 212.9h0M272.5 209.7h0M272.7 206.8h0M272.9 204.8h0M273.1 201.9h0M273.3 198.9h0M273.5 199.3h0M273.7 202h0M273.9 202h0M274.1 204.9h0M274.3 211.3h0M274.5 212.1h0M274.7 212h0M274.9 214.8h0M275.1 216.1h0M275.3 217h0M275.5 217.5h0M275.7 217.4h0M275.9 217.8h0M276.1 216.9h0M276.3 217.9h0M276.5 217.9h0M276.7 218.6h0M276.9 217.7h0M277.1 218.4h0M277.3 217.9h0M277.5 216.9h0M277.7 217.5h0M277.9 217.4h0M278.1 217.5h0M278.3 217.8h0M278.5 217.9h0M278.7 218.1h0M278.9 217.2h0M279.1 218.7h0M279.3 216.8h0M279.5 217.8h0M279.7 218.4h0M279.9 218.2h0M280.1 218.3h0M280.3 217.7h0M280.5 218.4h0M280.7 216.9h0M280.9 218.4h0M281.1 219.6h0M281.3 218.3h0M281.5 219.3h0M281.7 217.7h0M281.9 216.8h0M282.1 217.1h0M282.3 218.6h0M282.5 218.1h0M282.7 216h0M282.9 217.1h0M283.1 217.3h0M283.3 216.4h0M283.5 215.1h0M283.7 215.9h0M283.9 216.5h0M284.1 216h0M284.3 215.1h0M284.5 215h0M284.7 213.7h0M284.9 209.9h0M285.1 206.9h0M285.3 200.8h0M285.5 194.3h0M285.7 185.3h0M285.9 182.9h0M286.1 178.6h0M286.3 178.7h0M286.5 181.5h0M286.7 186.7h0M286.9 195h0M287.1 201.5h0M287.3 207.5h0M287.5 210.8h0M287.7 212.3h0M287.9 214.5h0M288.1 216.4h0M288.3 216.5h0M288.5 216.6h0M288.7 216.5h0M288.9 217.5h0M289.1 217.4h0M289.3 218.7h0M289.5 218.3h0M289.7 216.1h0M289.9 219.2h0M290.1 217.8h0M290.3 217.4h0M290.5 217.9h0M290.7 218.3h0M290.9 217.7h0M291.1 217.6h0M291.3 217.7h0M291.5 219.2h0M291.7 217.8h0M291.9 218.4h0M292.1 218.1h0M292.3 217.5h0M292.5 217.1h0M292.7 216.9h0M292.9 218h0M293.1 216.9h0M293.3 216.7h0M293.5 216.7h0M293.7 216.4h0M293.9 217.6h0M294.1 217.6h0M294.3 216.8h0M294.5 218.5h0M294.7 217.2h0M294.9 217.7h0M295.1 217.6h0M295.3 218.6h0M295.5 217.9h0M295.7 217.1h0M295.9 216.3h0M296.1 216.1h0M296.3 216.8h0M296.5 216.8h0M296.7 217.2h0M296.9 216h0M297.1 216.4h0M297.3 215.5h0M297.5 214.3h0M297.7 215.5h0M297.9 216.4h0M298.1 215.5h0M298.3 215.6h0M298.5 214.8h0M298.7 211.9h0M298.9 212h0M299.1 212.2h0M299.3 208.2h0M299.5 204.2h0M299.7 200h0M299.9 191.1h0M300.1 176.4h0M300.3 154.9h0M300.5 126.9h0M300.7 93.3h0M300.9 58.6h0M301.1 28.3h0M301.3 9.7h0M301.5 10.7h0M301.7 32.2h0M301.9 60.5h0M302.1 94.5h0M302.3 128.2h0M302.5 154.1h0M302.7 176.4h0M302.9 191.3h0M303.1 198.2h0M303.3 204.7h0M303.5 208.5h0M303.7 210h0M303.9 211.2h0M304.1 212.7h0M304.3 215.8h0M304.5 214.8h0M304.7 215.1h0M304.9 215.9h0M305.1 215.2h0M305.3 214.6h0M305.5 216.2h0M305.7 217h0M305.9 214.5h0M306.1 216.7h0M306.3 217.5h0M306.5 216.4h0M306.7 216.3h0M306.9 217.3h0M307.1 216.1h0M307.3 217.2h0M307.5 217.6h0M307.7 216.7h0M307.9 216.3h0M308.1 217.4h0M308.3 216.6h0M308.5 216.9h0M308.7 214.5h0M308.9 217.3h0M309.1 215.6h0M309.3 216.6h0M309.5 216.6h0M309.7 215.7h0M309.9 215.4h0M310.1 214.9h0M310.3 215.4h0M310.5 215.7h0M310.7 215.1h0M310.9 213.2h0M311.1 211.6h0M311.3 208.2h0M311.5 204.7h0M311.7 197.3h0M311.9 187.1h0M312.1 175.7h0M312.3 162.3h0M312.5 145.8h0M312.7 132h0M312.9 119.5h0M313.1 122.7h0M313.3 128.6h0M313.5 143.7h0M313.7 158.6h0M313.9 174.8h0M314.1 189h0M314.3 198.8h0M314.5 205.3h0M314.7 209.5h0M314.9 212.8h0M315.1 214h0M315.3 213.6h0M315.5 217h0M315.7 215.8h0M315.9 217.1h0M316.1 216.5h0M316.3 216.1h0M316.5 217.1h0M316.7 216.5h0M316.9 218.6h0M317.1 216.5h0M317.3 218h0M317.5 217.1h0M317.7 217.5h0M317.9 219.8h0M318.1 218.4h0M318.3 217.7h0M318.5 216.7h0M318.7 217.8h0M318.9 217.8h0M319.1 219.2h0M319.3 217h0M319.5 216.7h0M319.7 218.2h0M319.9 218.4h0M320.1 219.5h0M320.3 217.6h0M320.5 216.2h0M320.7 217.7h0M320.9 217.3h0M321.1 217.9h0M321.3 219.1h0M321.5 217.3h0M321.7 219.4h0M321.9 218.6h0M322.1 218.2h0M322.3 217.7h0M322.5 218.1h0M322.7 218.2h0M322.9 219.1h0M323.1 219.5h0M323.3 218.4h0M323.5 219.1h0M323.7 219.5h0M323.9 219.5h0M324.1 218.9h0M324.3 220h0M324.5 219.6h0M324.7 219.8h0M324.9 218.4h0M325.1 218.3h0M325.3 217h0M325.5 219.8h0M325.7 219.1h0M325.9 217.9h0M326.1 218.8h0M326.3 218.9h0M326.5 217.3h0M326.7 218.9h0M326.9 219.5h0M327.1 219.7h0M327.3 218.4h0M327.5 218.4h0M327.7 219.7h0M327.9 219.4h0M328.1 218.3h0M328.3 218.2h0M328.5 219.2h0M328.7 218.2h0M328.9 218.2h0M329.1 220.1h0M329.3 218.9h0M329.5 218.4h0M329.7 219.1h0M329.9 220.4h0M330.1 218.9h0M330.3 218.1h0M330.5 217.5h0M330.7 220.4h0M330.9 216.7h0M331.1 219.6h0M331.3 218h0M331.5 217.8h0M331.7 218h0M331.9 218.6h0M332.1 219.6h0M332.3 218.2h0M332.5 219.3h0M332.7 220.7h0M332.9 216.5h0M333.1 218.2h0M333.3 217.3h0M333.5 219.4h0M333.7 217.6h0M333.9 217.5h0M334.1 217.5h0M334.3 218.7h0M334.5 219.6h0M334.7 218.8h0M334.9 220.4h0M335.1 220h0M335.3 218.6h0M335.5 219.5h0M335.7 218.8h0M335.9 218.8h0M336.1 217.2h0M336.3 217.7h0M336.5 218.7h0M336.7 217.7h0M336.9 219.2h0M337.1 218.9h0M337.3 217.8h0M337.5 219.4h0M337.7 218.6h0M337.9 219.2h0M338.1 217.9h0M338.3 216.5h0M338.5 218.2h0M338.7 217.4h0M338.9 218.3h0M339.1 218.6h0M339.3 218.8h0M339.5 216.8h0M339.7 216.3h0M339.9 217.9h0M340.1 219h0M340.3 218h0M340.5 218.8h0M340.7 218h0M340.9 218.4h0M341.1 218.4h0M341.3 218.1h0M341.5 219.1h0M341.7 218.9h0M341.9 220h0M342.1 219h0M342.3 219.7h0M342.5 218.7h0M342.7 219.4h0M342.9 218.5h0M343.1 218.3h0M343.3 219.7h0M343.5 219.2h0M343.7 219.3h0M343.9 218h0M344.1 217.3h0M344.3 217.9h0M344.5 218.9h0M344.7 217.4h0M344.9 219.8h0M345.1 217.4h0M345.3 219.1h0M345.5 220.7h0M345.7 216.5h0M345.9 217.3h0M346.1 219.4h0M346.3 218.4h0M346.5 218.7h0M346.7 218.5h0M346.9 219.7h0M347.1 219h0M347.3 218.1h0M347.5 218.3h0M347.7 217.6h0M347.9 218.4h0M348.1 216.6h0M348.3 219h0M348.5 218.3h0M348.7 219.9h0M348.9 219.4h0M349.1 217.4h0M349.3 219.1h0M349.5 218h0M349.7 218.4h0M349.9 219.2h0M350.1 218.6h0M350.3 218.7h0M350.5 218.7h0M350.7 217.7h0M350.9 217.7h0M351.1 218.7h0M351.3 218.9h0M351.5 217.9h0M351.7 218.2h0M351.9 217.3h0M352.1 215.9h0M352.3 217.3h0M352.5 217.9h0M352.7 217.9h0M352.9 218.3h0M353.1 218.1h0M353.3 217.8h0M353.5 216.8h0M353.7 215.9h0M353.9 213.3h0M354.1 212.1h0M354.3 208.8h0M354.5 205.8h0M354.7 198.6h0M354.9 195.4h0M355.1 190.7h0M355.3 190.5h0M355.5 191h0M355.7 196.1h0M355.9 199.4h0M356.1 201.9h0M356.3 209.6h0M356.5 210.5h0M356.7 212.3h0M356.9 214.9h0M357.1 215.6h0M357.3 215.7h0M357.5 217.6h0M357.7 216.9h0M357.9 218h0M358.1 217.9h0M358.3 217.9h0M358.5 217.5h0M358.7 217.3h0M358.9 217h0M359.1 218.5h0M359.3 215.7h0M359.5 216.2h0M359.7 216.5h0M359.9 217.2h0M360.1 216.8h0M360.3 216h0M360.5 215.7h0M360.7 216.8h0M360.9 213.6h0M361.1 209.7h0M361.3 211h0M361.5 203.7h0M361.7 197.9h0M361.9 190.4h0M362.1 179.8h0M362.3 173.9h0M362.5 165.7h0M362.7 161.6h0M362.9 166.1h0M363.1 173h0M363.3 181.2h0M363.5 190.8h0M363.7 196.7h0M363.9 205.6h0M364.1 208.4h0M364.3 213.5h0M364.5 213.7h0M364.7 215.5h0M364.9 218.3h0M365.1 216.5h0M365.3 217.7h0M365.5 217.4h0M365.7 215.9h0M365.9 218.2h0M366.1 218.2h0M366.3 216.3h0M366.5 217.4h0M366.7 216.3h0M366.9 217.3h0M367.1 218.4h0M367.3 217.7h0M367.5 216.7h0M367.7 216.9h0M367.9 217.7h0M368.1 217.6h0M368.3 217.7h0M368.5 218.1h0M368.7 216h0M368.9 217.5h0M369.1 218.4h0M369.3 217.7h0M369.5 216.5h0M369.7 216.1h0M369.9 216.1h0M370.1 215.5h0M370.3 213.3h0M370.5 212.6h0M370.7 209.5h0M370.9 204.3h0M371.1 202.4h0M371.3 199.2h0M371.5 197.4h0M371.7 198.9h0M371.9 201.9h0M372.1 202.9h0M372.3 207.6h0M372.5 211.3h0M372.7 212.6h0M372.9 214.5h0M373.1 216.6h0M373.3 216.5h0M373.5 217.1h0M373.7 218.8h0M373.9 217.4h0M374.1 217.5h0M374.3 217.7h0M374.5 218.6h0M374.7 217.5h0M374.9 217h0M375.1 216.5h0M375.3 216.9h0M375.5 214.4h0M375.7 214.6h0M375.9 211.8h0M376.1 208h0M376.3 207.5h0M376.5 205.1h0M376.7 202.3h0M376.9 203.7h0M377.1 204.9h0M377.3 206.5h0M377.5 208.2h0M377.7 213.5h0M377.9 214.1h0M378.1 215.7h0M378.3 216.7h0M378.5 217h0M378.7 217.2h0M378.9 216.2h0M379.1 216.9h0M379.3 215.3h0M379.5 214h0M379.7 213.4h0M379.9 210.6h0M380.1 206.9h0M380.3 205.9h0M380.5 205.2h0M380.7 204h0M380.9 205.5h0M381.1 206h0M381.3 207.7h0M381.5 211.6h0M381.7 213.1h0M381.9 213.6h0M382.1 216.2h0M382.3 216.4h0M382.5 217.9h0M382.7 218h0M382.9 217.9h0M383.1 215.9h0M383.3 218h0M383.5 218.2h0M383.7 218.3h0M383.9 218h0M384.1 217.4h0M384.3 217.7h0M384.5 216.3h0M384.7 217.8h0M384.9 216.8h0M385.1 217.7h0M385.3 217.5h0M385.5 219.1h0M385.7 218.1h0M385.9 218h0M386.1 218.2h0M386.3 219.7h0M386.5 217.3h0M386.7 218.3h0M386.9 218.3h0M387.1 218.2h0M387.3 218.1h0M387.5 217.6h0M387.7 218.9h0M387.9 218.6h0M388.1 217.6h0M388.3 217.7h0M388.5 218.1h0M388.7 218.2h0M388.9 218.3h0M389.1 217.5h0M389.3 216.1h0M389.5 217.5h0M389.7 214.6h0M389.9 214.2h0M390.1 214.2h0M390.3 211.9h0M390.5 212.9h0M390.7 212.5h0M390.9 212.1h0M391.1 211.9h0M391.3 212.9h0M391.5 214.2h0M391.7 214.8h0M391.9 217.6h0M392.1 216.1h0M392.3 218.1h0M392.5 217.8h0M392.7 217.8h0M392.9 218.5h0M393.1 218.7h0M393.3 218.5h0M393.5 217.7h0M393.7 217.2h0M393.9 217.2h0M394.1 218.4h0M394.3 218.2h0M394.5 218.3h0M394.7 217h0M394.9 218.8h0M395.1 215.9h0M395.3 216.8h0M395.5 216.4h0M395.7 214.7h0M395.9 213.2h0M396.1 212.9h0M396.3 211.5h0M396.5 212.1h0M396.7 211.3h0M396.9 211.9h0M397.1 213.9h0M397.3 213.5h0M397.5 215.3h0M397.7 215.9h0M397.9 217.1h0M398.1 216.8h0M398.3 216h0M398.5 217.6h0M398.7 215.8h0M398.9 215.7h0M399.1 215.1h0M399.3 216.1h0M399.5 212.6h0M399.7 209.1h0M399.9 206.4h0M400.1 200.2h0M400.3 196.4h0M400.5 186.5h0M400.7 182h0M400.9 176.8h0M401.1 179.8h0M401.3 180.5h0M401.5 187.5h0M401.7 193.1h0M401.9 201.2h0M402.1 206.2h0M402.3 207.6h0M402.5 213.2h0M402.7 214.9h0M402.9 215.6h0M403.1 216.9h0M403.3 215.5h0M403.5 215.3h0M403.7 217.4h0M403.9 218.4h0M404.1 216.1h0M404.3 216.3h0M404.5 216.6h0M404.7 216.3h0M404.9 218h0M405.1 217.5h0M405.3 218.5h0M405.5 218.5h0M405.7 216.6h0M405.9 217.8h0M406.1 215.4h0M406.3 217h0M406.5 217.3h0M406.7 215.7h0M406.9 214.2h0M407.1 214.5h0M407.3 214.9h0M407.5 212.5h0M407.7 210.7h0M407.9 211.8h0M408.1 212h0M408.3 211h0M408.5 212.7h0M408.7 214.9h0M408.9 215.2h0M409.1 216.4h0M409.3 216.2h0M409.5 216.8h0M409.7 216.2h0M409.9 216.7h0M410.1 218.7h0M410.3 217.1h0M410.5 216.8h0M410.7 217.2h0M410.9 216.7h0M411.1 218h0M411.3 218.3h0M411.5 216.8h0M411.7 218.4h0M411.9 219.3h0M412.1 216.8h0M412.3 218.2h0M412.5 217.8h0M412.7 218.7h0M412.9 218.6h0M413.1 218.5h0M413.3 217.8h0M413.5 217.2h0M413.7 219.3h0M413.9 216.9h0M414.1 218.4h0M414.3 218.3h0M414.5 216.9h0M414.7 217.4h0M414.9 218.6h0M415.1 215.8h0M415.3 217.9h0M415.5 217h0M415.7 217h0M415.9 215.9h0M416.1 217.4h0M416.3 216.1h0M416.5 217.4h0M416.7 215.8h0M416.9 217.2h0M417.1 216.7h0M417.3 214.7h0M417.5 215.7h0M417.7 215.6h0M417.9 213.4h0M418.1 214.5h0M418.3 214.6h0M418.5 211.9h0M418.7 211.2h0M418.9 205.2h0M419.1 199.1h0M419.3 192.3h0M419.5 181h0M419.7 166.5h0M419.9 152.4h0M420.1 141.1h0M420.3 131.5h0M420.5 134.9h0M420.7 140.4h0M420.9 152.9h0M421.1 167.1h0M421.3 180h0M421.5 193h0M421.7 199.7h0M421.9 206.5h0M422.1 210.7h0M422.3 213.7h0M422.5 214.9h0M422.7 214.4h0M422.9 216.1h0M423.1 215.6h0M423.3 215.1h0M423.5 215.3h0M423.7 215.1h0M423.9 216.7h0M424.1 217.5h0M424.3 215.9h0M424.5 216.6h0M424.7 216h0M424.9 217h0M425.1 216.1h0M425.3 216.4h0M425.5 216.6h0M425.7 216.8h0M425.9 216.9h0M426.1 217h0M426.3 217.1h0M426.5 216.5h0M426.7 217.7h0M426.9 215.9h0M427.1 217.4h0M427.3 216.5h0M427.5 217.4h0M427.7 217.5h0M427.9 215.7h0M428.1 217.6h0M428.3 218.3h0M428.5 217.9h0M428.7 217.5h0M428.9 215.5h0M429.1 217.1h0M429.3 216.4h0M429.5 218h0M429.7 216.8h0M429.9 216.5h0M430.1 215.6h0M430.3 217.5h0M430.5 216.4h0M430.7 216.6h0M430.9 217.6h0M431.1 216.7h0M431.3 216.7h0M431.5 218.3h0M431.7 215.7h0M431.9 215.5h0M432.1 216.1h0M432.3 216.5h0M432.5 213.7h0M432.7 214h0M432.9 212.2h0M433.1 210h0M433.3 208.6h0M433.5 202.3h0M433.7 195.9h0M433.9 185.3h0M434.1 172.3h0M434.3 157.5h0M434.5 141.8h0M434.7 132.2h0M434.9 128.4h0M435.1 132.7h0M435.3 142.8h0M435.5 158.6h0M435.7 172.8h0M435.9 185.3h0M436.1 196.2h0M436.3 203.2h0M436.5 208.7h0M436.7 209.4h0M436.9 212h0M437.1 213.9h0M437.3 215h0M437.5 213.6h0M437.7 215.5h0M437.9 216.1h0M438.1 216h0M438.3 216.2h0M438.5 215.4h0M438.7 216.7h0M438.9 215.1h0M439.1 217.6h0M439.3 216.4h0M439.5 217.9h0M439.7 215.6h0M439.9 217.4h0M440.1 217.3h0M440.3 216.5h0M440.5 216.3h0M440.7 218.2h0M440.9 217.6h0M441.1 218.5h0M441.3 217.3h0M441.5 217.5h0M441.7 217.7h0M441.9 218h0M442.1 217.8h0M442.3 218.1h0M442.5 217.1h0M442.7 216.3h0M442.9 219.1h0M443.1 217.6h0M443.3 217.9h0M443.5 217.1h0M443.7 218.3h0M443.9 217.6h0M444.1 218.3h0M444.3 216.9h0M444.5 217.4h0M444.7 217.6h0M444.9 217.2h0M445.1 217.6h0M445.3 218.7h0M445.5 216.9h0M445.7 217.1h0M445.9 217.4h0M446.1 216.4h0M446.3 216.1h0M446.5 217.7h0M446.7 217h0M446.9 214.5h0M447.1 213.6h0M447.3 214.1h0M447.5 212.8h0M447.7 210.4h0M447.9 208.5h0M448.1 208.1h0M448.3 206h0M448.5 207.8h0M448.7 209.1h0M448.9 208.9h0M449.1 212.2h0M449.3 213.3h0M449.5 214h0M449.7 214.7h0M449.9 216.3h0M450.1 216.3h0M450.3 217.1h0M450.5 215h0M450.7 215.7h0M450.9 216.9h0M451.1 215.3h0M451.3 213.7h0M451.5 212.3h0M451.7 208.7h0M451.9 206h0M452.1 204.1h0M452.3 199.7h0M452.5 197.5h0M452.7 193.9h0M452.9 194h0M453.1 193.4h0M453.3 199.6h0M453.5 205.6h0M453.7 207.9h0M453.9 210.3h0M454.1 213.9h0M454.3 215.1h0M454.5 215.7h0M454.7 215.8h0M454.9 216.6h0M455.1 217.4h0M455.3 216.2h0M455.5 217.3h0M455.7 217.4h0M455.9 218.1h0M456.1 217.7h0M456.3 216.5h0M456.5 218.4h0M456.7 217.2h0M456.9 216.5h0M457.1 217.4h0M457.3 216.9h0M457.5 218h0M457.7 216h0M457.9 216.2h0M458.1 216.9h0M458.3 218.5h0M458.5 217.9h0M458.7 216.2h0M458.9 215.5h0M459.1 216.7h0M459.3 215.8h0M459.5 217.3h0M459.7 216.9h0M459.9 216.7h0M460.1 216.3h0M460.3 217.8h0M460.5 215.7h0M460.7 215.2h0M460.9 217.2h0M461.1 217.2h0M461.3 215.6h0M461.5 216.3h0M461.7 217.5h0M461.9 214.6h0M462.1 214.9h0M462.3 215.1h0M462.5 212.5h0M462.7 213.8h0M462.9 213.9h0M463.1 212.3h0M463.3 212.1h0M463.5 209.8h0M463.7 205.4h0M463.9 200.8h0M464.1 191.8h0M464.3 176.1h0M464.5 158.5h0M464.7 135.3h0M464.9 109.5h0M465.1 84.1h0M465.3 63.4h0M465.5 58.1h0M465.7 62.8h0M465.9 85.9h0M466.1 110.3h0M466.3 137.7h0M466.5 159.5h0M466.7 176.7h0M466.9 188.8h0M467.1 199.4h0M467.3 203.6h0M467.5 206.3h0M467.7 207.2h0M467.9 207.1h0M468.1 204.6h0M468.3 205h0M468.5 202.1h0M468.7 202h0M468.9 203.4h0M469.1 205.4h0M469.3 207.8h0M469.5 206.8h0M469.7 211.5h0M469.9 210.2h0M470.1 211.7h0M470.3 212.6h0M470.5 212.5h0M470.7 208.9h0M470.9 205.7h0M471.1 204.6h0M471.3 199.7h0M471.5 193.7h0M471.7 190.3h0M471.9 186h0M472.1 188.6h0M472.3 189.6h0M472.5 195h0M472.7 195.4h0M472.9 201.1h0M473.1 204h0M473.3 201.7h0M473.5 199.7h0M473.7 194.5h0M473.9 193.3h0M474.1 190.1h0M474.3 188.6h0M474.5 188.9h0M474.7 194.1h0M474.9 197.4h0M475.1 202.5h0M475.3 207.3h0M475.5 210.1h0M475.7 212.5h0M475.9 214.8h0M476.1 214h0M476.3 216.8h0M476.5 215h0M476.7 215.5h0M476.9 216.5h0M477.1 217.2h0M477.3 216.8h0M477.5 216.3h0M477.7 216.2h0M477.9 216.6h0M478.1 216.1h0M478.3 217.4h0M478.5 216.8h0M478.7 218.3h0M478.9 216.4h0M479.1 216.9h0M479.3 217.4h0M479.5 216.2h0M479.7 216.6h0M479.9 219.4h0M480.1 217.1h0M480.3 218.3h0M480.5 216.3h0M480.7 215.2h0M480.9 217.6h0M481.1 217.1h0M481.3 217.4h0M481.5 216.9h0M481.7 216.6h0M481.9 216.1h0M482.1 217.9h0M482.3 215.8h0M482.5 217.8h0M482.7 216.8h0M482.9 216h0M483.1 216.3h0M483.3 217.5h0M483.5 217h0M483.7 216.4h0M483.9 215.3h0M484.1 213.3h0M484.3 213.9h0M484.5 210.5h0M484.7 208.3h0M484.9 206.3h0M485.1 204.9h0M485.3 203.3h0M485.5 204.9h0M485.7 206.1h0M485.9 208.4h0M486.1 209.3h0M486.3 214.5h0M486.5 213.2h0M486.7 215.5h0M486.9 216.2h0M487.1 217.3h0M487.3 218.2h0M487.5 217.2h0M487.7 217.5h0M487.9 216.6h0M488.1 218.3h0M488.3 216h0M488.5 216.9h0M488.7 217.4h0M488.9 217.8h0M489.1 217.8h0M489.3 218.1h0M489.5 217.7h0M489.7 217.2h0M489.9 217.4h0M490.1 218.4h0M490.3 217.5h0M490.5 218h0M490.7 217.2h0M490.9 215.8h0M491.1 216.8h0M491.3 217.5h0M491.5 218.6h0M491.7 218.4h0M491.9 218.7h0M492.1 216.7h0M492.3 217.9h0M492.5 217.2h0M492.7 217.8h0M492.9 217.2h0M493.1 216.2h0M493.3 217.8h0M493.5 217.5h0M493.7 217.9h0M493.9 216.5h0M494.1 218.1h0M494.3 218.1h0M494.5 218.3h0M494.7 218.3h0M494.9 216.8h0M495.1 215.1h0M495.3 218h0M495.5 216.4h0M495.7 216.9h0M495.9 218h0M496.1 217.3h0M496.3 217.2h0M496.5 217.6h0M496.7 215.4h0M496.9 218.5h0M497.1 216.6h0M497.3 216.6h0M497.5 217.3h0M497.7 216.6h0M497.9 216h0M498.1 216.5h0M498.3 216.2h0M498.5 215.8h0M498.7 217.9h0M498.9 214.9h0M499.1 214h0M499.3 214.8h0M499.5 214.3h0M499.7 215.7h0M499.9 213.5h0M500.1 212.3h0M500.3 209.2h0M500.5 203.3h0M500.7 199h0M500.9 190.7h0M501.1 184.1h0M501.3 173.8h0M501.5 167.2h0M501.7 165.7h0M501.9 168h0M502.1 171.2h0M502.3 182.8h0M502.5 190.8h0M502.7 197.6h0M502.9 200.9h0M503.1 203.3h0M503.3 206.4h0M503.5 207.1h0M503.7 205.5h0M503.9 202.1h0M504.1 202.2h0M504.3 198.6h0M504.5 198.6h0M504.7 201.2h0M504.9 202.6h0M505.1 204.4h0M505.3 205.1h0M505.5 207.8h0M505.7 204.4h0M505.9 202.8h0M506.1 198.1h0M506.3 190.3h0M506.5 182.6h0M506.7 175.6h0M506.9 170.3h0M507.1 167.3h0M507.3 167h0M507.5 172.6h0M507.7 182.2h0M507.9 190h0M508.1 199.2h0M508.3 204.6h0M508.5 208.5h0M508.7 212.6h0M508.9 214.3h0M509.1 214.4h0M509.3 215.4h0M509.5 216.4h0M509.7 215.4h0M509.9 216.1h0M510.1 215.1h0M510.3 216h0M510.5 216.1h0M510.7 215.3h0M510.9 214.9h0M511.1 214.4h0M511.3 213.1h0M511.5 211h0M511.7 210.3h0M511.9 209.8h0M512.1 213.2h0M512.3 213.2h0M512.5 214.4h0M512.7 214.9h0M512.9 216.1h0M513.1 216.5h0M513.3 215.6h0M513.5 216h0M513.7 216.7h0M513.9 213.9h0M514.1 213.1h0M514.3 213h0M514.5 210.1h0M514.7 210.2h0M514.9 208h0M515.1 209.7h0M515.3 211.5h0M515.5 212.6h0M515.7 214.3h0M515.9 214.3h0M516.1 214.6h0M516.3 214.3h0M516.5 213.8h0M516.7 215h0M516.9 209.9h0M517.1 210.2h0M517.3 207.7h0M517.5 207.5h0M517.7 209.8h0M517.9 212.2h0M518.1 213.6h0M518.3 214.8h0M518.5 215.9h0M518.7 216.2h0M518.9 216.3h0M519.1 213.9h0M519.3 213.7h0M519.5 211h0M519.7 210h0M519.9 207.6h0M520.1 206.4h0M520.3 205.9h0M520.5 206.9h0M520.7 209.6h0M520.9 212.6h0M521.1 214.6h0M521.3 213.8h0M521.5 216.3h0M521.7 216.8h0M521.9 215.7h0M522.1 216.1h0M522.3 216.7h0M522.5 217.5h0M522.7 215.3h0M522.9 216.9h0M523.1 216.8h0M523.3 217.4h0M523.5 218.4h0M523.7 218.3h0M523.9 217h0M524.1 217h0M524.3 217.5h0M524.5 218.2h0M524.7 218.4h0M524.9 217.5h0M525.1 218.4h0M525.3 216.5h0M525.5 216.3h0M525.7 214.9h0M525.9 216.5h0M526.1 217.7h0M526.3 217.9h0M526.5 219.9h0M526.7 217.6h0M526.9 217.2h0M527.1 216.2h0M527.3 216.5h0M527.5 216.4h0M527.7 216.7h0M527.9 216.2h0M528.1 215.5h0M528.3 217.4h0M528.5 216.7h0M528.7 217.2h0M528.9 214.3h0M529.1 214h0M529.3 213.4h0M529.5 213.4h0M529.7 209.5h0M529.9 206.1h0M530.1 200.7h0M530.3 195h0M530.5 187.9h0M530.7 183.4h0M530.9 178.6h0M531.1 179.2h0M531.3 183.1h0M531.5 188.4h0M531.7 194.9h0M531.9 199.5h0M532.1 205.4h0M532.3 208.4h0M532.5 211.3h0M532.7 213.3h0M532.9 211.2h0M533.1 212h0M533.3 208.3h0M533.5 205.4h0M533.7 203.3h0M533.9 197.9h0M534.1 192.9h0M534.3 189.7h0M534.5 188.8h0M534.7 188.2h0M534.9 192.8h0M535.1 196.9h0M535.3 202.6h0M535.5 206.2h0M535.7 210.6h0M535.9 212.4h0M536.1 213.6h0M536.3 215.1h0M536.5 216.1h0M536.7 217h0M536.9 216.2h0M537.1 216.3h0M537.3 216.9h0M537.5 217.4h0M537.7 216.4h0M537.9 214.9h0M538.1 217.2h0M538.3 216.7h0M538.5 216.7h0M538.7 219.1h0M538.9 217h0M539.1 217.7h0M539.3 216h0M539.5 217.3h0M539.7 217.8h0M539.9 217.3h0M540.1 217h0M540.3 217.6h0M540.5 217.2h0M540.7 218.2h0M540.9 217.3h0M541.1 216.5h0M541.3 215.5h0M541.5 216.5h0M541.7 216.8h0M541.9 216h0M542.1 216.1h0M542.3 215.5h0M542.5 215.9h0M542.7 216.8h0M542.9 216.4h0M543.1 216.3h0M543.3 215.9h0M543.5 215.5h0M543.7 215.6h0M543.9 215.5h0M544.1 212.5h0M544.3 211.2h0M544.5 206.1h0M544.7 202.6h0M544.9 200.9h0M545.1 195.8h0M545.3 194.6h0M545.5 196.3h0M545.7 197.3h0M545.9 200.4h0M546.1 206.8h0M546.3 207.6h0M546.5 210.3h0M546.7 211.5h0M546.9 211.2h0M547.1 212h0M547.3 210.3h0M547.5 208.2h0M547.7 205.5h0M547.9 202.1h0M548.1 201.3h0M548.3 200h0M548.5 198.8h0M548.7 201h0M548.9 202.4h0M549.1 206h0M549.3 205.5h0M549.5 204.8h0M549.7 202.8h0M549.9 201.7h0M550.1 198.7h0M550.3 199.3h0M550.5 200.2h0M550.7 202.4h0M550.9 204.6h0M551.1 208.6h0M551.3 209.7h0M551.5 212.4h0M551.7 214.1h0M551.9 215.2h0M552.1 215.5h0M552.3 215.4h0M552.5 215.7h0M552.7 216.4h0M552.9 216.1h0M553.1 216.8h0M553.3 215.9h0M553.5 217h0M553.7 218.7h0M553.9 216h0M554.1 217h0M554.3 218h0M554.5 217.3h0M554.7 217.8h0M554.9 215.4h0M555.1 216.7h0M555.3 218.4h0M555.5 216.7h0M555.7 217.5h0M555.9 215.6h0M556.1 218h0M556.3 219h0M556.5 217.1h0M556.7 217.4h0M556.9 217.5h0M557.1 218.9h0M557.3 216.8h0M557.5 215.8h0M557.7 218.7h0M557.9 216.2h0M558.1 217.6h0M558.3 215.2h0M558.5 216.7h0M558.7 217.2h0M558.9 216.1h0M559.1 216.5h0M559.3 217.4h0M559.5 216.3h0M559.7 217.3h0M559.9 218.2h0M560.1 215.1h0M560.3 216.9h0M560.5 217.1h0M560.7 216.2h0M560.9 217.6h0M561.1 217.3h0M561.3 216.5h0M561.5 216.2h0M561.7 215.4h0M561.9 214h0M562.1 214.5h0M562.3 212.2h0M562.5 209.9h0M562.7 208.1h0M562.9 202.2h0M563.1 197.5h0M563.3 188.8h0M563.5 182.9h0M563.7 178.2h0M563.9 177.2h0M564.1 176.3h0M564.3 180.6h0M564.5 183.5h0M564.7 188.7h0M564.9 192.7h0M565.1 192.8h0M565.3 193.6h0M565.5 194.2h0M565.7 190.2h0M565.9 188.7h0M566.1 185.4h0M566.3 182.4h0M566.5 182.9h0M566.7 184.8h0M566.9 188.8h0M567.1 192.5h0M567.3 198.1h0M567.5 204.6h0M567.7 206.6h0M567.9 210.8h0M568.1 212.1h0M568.3 212.5h0M568.5 213.2h0M568.7 211h0M568.9 212h0M569.1 212.1h0M569.3 208.4h0M569.5 208.5h0M569.7 207.3h0M569.9 209.4h0M570.1 205.9h0M570.3 207h0M570.5 208.1h0M570.7 208.8h0M570.9 208.6h0M571.1 209.9h0M571.3 208.1h0M571.5 208.5h0M571.7 207h0M571.9 204.9h0M572.1 205.6h0M572.3 208.2h0M572.5 208.1h0M572.7 210.2h0M572.9 212.1h0M573.1 212h0M573.3 213.2h0M573.5 214h0M573.7 212.8h0M573.9 209h0M574.1 210.3h0M574.3 207.1h0M574.5 205.4h0M574.7 204.8h0M574.9 206.9h0M575.1 207.1h0M575.3 208h0M575.5 208.4h0M575.7 210.3h0M575.9 210.7h0M576.1 208h0M576.3 206.8h0M576.5 206.3h0M576.7 206.4h0M576.9 205.3h0M577.1 206.1h0M577.3 206.4h0M577.5 209.3h0M577.7 208.7h0M577.9 209.3h0M578.1 210.3h0M578.3 209.3h0M578.5 209.9h0M578.7 211h0M578.9 211.3h0M579.1 213.9h0M579.3 213.6h0M579.5 213.9h0M579.7 214.5h0M579.9 214.2h0M580.1 216.3h0M580.3 216.5h0M580.5 214.9h0M580.7 214.5h0M580.9 212.5h0M581.1 212.9h0M581.3 212.8h0M581.5 209h0M581.7 207.2h0M581.9 203.6h0M582.1 194.3h0M582.3 191.1h0M582.5 185.7h0M582.7 182.5h0M582.9 180.3h0M583.1 183.5h0M583.3 185.2h0M583.5 190.2h0M583.7 192.2h0M583.9 189.6h0M584.1 189h0M584.3 189.3h0M584.5 189.7h0M584.7 191.4h0M584.9 194.9h0M585.1 195.6h0M585.3 199h0M585.5 200.4h0M585.7 200.4h0M585.9 198.3h0M586.1 196.4h0M586.3 193.6h0M586.5 193.7h0M586.7 191.5h0M586.9 190.6h0M587.1 194.9h0M587.3 195.9h0M587.5 195.5h0M587.7 195.3h0M587.9 195.3h0M588.1 197.5h0M588.3 196.4h0M588.5 200.3h0M588.7 202.9h0M588.9 204.8h0M589.1 208.5h0M589.3 210h0M589.5 209.8h0M589.7 213.3h0M589.9 214.2h0M590.1 216.1h0M590.3 216.2h0M590.5 216.8h0M590.7 216.5h0M590.9 217h0M591.1 216.8h0M591.3 216.5h0M591.5 217.2h0M591.7 217.6h0M591.9 217.6h0M592.1 216.1h0M592.3 216.5h0M592.5 215.7h0M592.7 215.7h0M592.9 216.9h0M593.1 216h0M593.3 217.8h0M593.5 214.8h0M593.7 215.7h0M593.9 216.8h0M594.1 217.6h0M594.3 216.3h0M594.5 218.2h0M594.7 217.3h0M594.9 216.1h0M595.1 216.6h0M595.3 217.1h0M595.5 215.9h0M595.7 217.5h0M595.9 216.4h0M596.1 217h0M596.3 217.3h0M596.5 216.2h0M596.7 217.4h0M596.9 215h0M597.1 217h0M597.3 214.9h0M597.5 217.3h0M597.7 215.8h0M597.9 217.1h0M598.1 216.9h0M598.3 215.2h0M598.5 214h0M598.7 214.6h0M598.9 211.2h0M599.1 211.5h0M599.3 209.2h0M599.5 207.9h0M599.7 207.3h0M599.9 209.9h0M600.1 207.8h0M600.3 210.2h0M600.5 212.6h0M600.7 214.4h0M600.9 215.9h0M601.1 216.4h0M601.3 215.3h0M601.5 216.3h0M601.7 217.1h0M601.9 216.7h0M602.1 215.1h0M602.3 216.7h0M602.5 216.9h0M602.7 215.3h0M602.9 216.1h0M603.1 216.4h0M603.3 216.9h0M603.5 217.7h0M603.7 217.3h0M603.9 216.7h0M604.1 216.5h0M604.3 216h0M604.5 215.7h0M604.7 215.8h0M604.9 215.6h0M605.1 216.2h0M605.3 216.6h0M605.5 214.2h0M605.7 213.2h0M605.9 211.1h0M606.1 208.5h0M606.3 207h0M606.5 204.8h0M606.7 202.6h0M606.9 202.4h0M607.1 204.4h0M607.3 205.4h0M607.5 208.4h0M607.7 211.4h0M607.9 212.3h0" stroke="#000" stroke-width="3.5" stroke-linecap="round" fill="none"/>
<path d="M55.5 215.5L69.6 216.1L70.5 215.5L71.7 212.8L72.1 212.4L72.5 212.9L73.6 215.7L74.3 216.5L75.4 216.9L79.1 217.4L94.9 217.9L116.5 217.9L123.4 217.7L126.1 217.1L126.7 216.6L127.1 215.7L127.6 211.5L128.9 173.6L130.1 209.8L130.6 215.2L130.9 216.3L131.4 216.9L133.2 217.6L137.1 217.9L149.1 217.9L149.9 217.6L151 216.8L152.1 217.6L153 217.9L169.4 217.8L176.4 217.3L178.1 216.7L179.2 215.8L180 214.3L180.5 212.1L181.1 200.3L182.5 66.5L183.7 189.9L184.1 206.5L184.4 211.2L184.8 213.7L185.9 215.9L187.7 217L191.9 217.5L194.4 217.5L195.6 217.2L196.2 216.7L196.7 215.5L198.1 208.1L198.5 207.2L198.9 208.1L200.3 215.5L200.8 216.7L201.5 217.3L205.4 217.7L214 217.6L217.2 217.1L219.1 216.1L220.2 214.3L220.8 211.6L221.4 198.9L222.8 54.4L224.1 193.9L224.6 209.5L225 212.9L225.6 214.8L226.3 215.9L227.3 216.7L230.4 217.5L238 217.8L250.4 217.7L254.3 217.4L256.5 216.8L257.9 215.6L258.8 213.5L259.2 210.9L259.5 205.9L259.9 188.2L261.1 57L262.3 188.2L262.7 205.9L263 210.9L263.4 213.5L264.2 215.5L265.5 216.6L266.4 216.7L267.8 215.8L269.7 217.4L270.9 217.4L271.6 216.9L272.3 213.8L273.4 200.1L274.5 213.8L275.2 217.1L275.7 217.5L276.6 217.8L280.2 217.9L282.8 217.7L284.1 216.9L284.6 215.3L285 211.1L286.2 180.2L287.3 209.3L288 216.2L288.3 216.9L288.9 217.4L291.2 217.8L294.9 217.6L297.2 216.6L298.5 214.8L299.3 211.6L299.7 206L300 195.1L301.4 17.5L302.4 160L302.9 199.7L303.2 208L303.6 212.2L304.5 215.2L305.9 216.8L307 217.2L308.2 217.3L309.3 217.1L310.1 216.6L310.6 215.9L311 214.7L311.4 211.4L312 191.5L313 126.1L314.4 207.8L315 215L315.5 216.4L316.3 217.3L317.7 217.9L320.1 218.4L331 218.8L337.1 218.7L337.7 218.5L338.8 217.6L340 218.5L341.1 218.6L350 218.4L351.9 218.2L353 217.8L353.7 216.5L354.1 213.6L355.3 192.2L356.3 210.7L356.8 215.9L357.2 217.1L357.8 217.6L359.2 217.6L360.3 217L361 215.1L361.5 208.6L362.7 165.4L363.9 208.6L364.4 215.1L364.7 216.3L365.2 217.1L366.4 217.7L368.2 217.9L369.4 217.5L369.9 216.8L370.5 212.7L371.5 199.4L372.7 214.7L373.1 216.7L373.6 217.4L374.8 217.4L375.4 216.4L376.8 203.7L377.9 214.6L378.2 216.2L378.6 217L379.1 216.8L379.5 215.4L380.7 204.4L381.8 215L382.2 216.9L382.7 217.6L383.7 217.9L385.8 218L388.2 218L389.1 217.7L389.7 216.5L390.8 211.1L391.9 216.4L392.5 217.6L394 217.8L395 217.4L395.5 216.3L396.5 212.5L397.7 216.5L398.2 217L398.8 216.7L399.4 215L399.8 210.7L401 178.5L402.1 208.8L402.4 213.4L402.9 216.2L403.4 216.9L404.2 217.3L405.6 217.5L406.4 217.3L407 215.9L408 211.5L409.1 216.3L409.8 217.5L411.4 217.7L414.4 217.6L416.1 217.3L417.3 216.7L418.1 215.7L418.5 214.4L419.1 206.2L420.4 137.8L421.5 199.3L421.8 208.6L422.2 213.8L422.9 216L423.6 216.7L424.6 217.2L426.4 217.4L428.7 217.4L430.4 217.1L431.6 216.6L432.4 215.7L432.9 214.3L433.5 206.9L434.9 123.1L436.1 200.4L436.5 210.8L437 214.7L437.9 216.3L439.6 217.2L443.6 217.6L445.5 217.5L446.4 217.2L446.9 216.4L447.2 215.1L448.3 206.5L449.6 215.9L450.1 216.8L450.5 216.8L450.9 216.5L451.4 214.9L451.7 212.3L452.8 194.7L453.9 212.3L454.5 216.2L454.8 216.7L455.4 217.1L457.6 217.3L460.2 216.9L461.9 215.9L462.9 214.3L463.5 211.7L464.1 199.7L465.5 63.7L466.5 172.5L467 202.5L467.3 208.2L467.6 209.5L468.5 203.6L468.7 203.2L468.8 203.4L469.7 212L470.2 213.9L470.6 212.9L470.9 209.9L472 189.1L473.1 206L473.5 203.3L474.1 191.7L474.3 190.4L474.4 190.8L475.5 212.2L475.9 215.2L476.5 216.4L477.8 217L480.1 217.3L482.6 217.2L483.6 216.7L484.2 214.6L485.3 205.2L486.4 214.6L486.7 216L487.2 216.9L488 217.2L489.8 217.3L495.9 217.2L498.3 216.8L499.5 215.8L500.1 213.5L500.5 207.9L501.7 166.5L502.7 201.6L503.1 209.1L503.3 209.9L503.5 209.2L504.4 200.9L505.4 209.7L505.5 210L505.6 209.8L505.8 208.2L507.1 167.9L508.4 210L508.9 214.7L509.3 215.8L510 216.3L510.5 216.3L510.8 215.8L511.8 211.2L512.8 216L513.2 216.6L513.6 216.5L514 215.3L514.9 209.4L515.8 215.1L516 215.6L516.2 215.6L517.3 208.3L518.2 215L518.5 216.1L518.8 216.3L519.3 214.7L520.2 206.5L521.1 214.9L521.7 216.9L523.1 217.3L526.4 217.3L528.1 216.9L529 216.1L529.5 214L529.9 208.8L531 180.3L532 206.2L532.5 213.1L532.7 213.9L532.9 213.9L533.3 211.3L534.5 188.6L535.8 213.2L536.3 215.9L536.7 216.5L537.5 217L539.4 217.3L541.8 217.2L543 216.8L543.6 216.1L544.2 212.5L545.3 196.3L546.3 210.7L546.8 213.9L547.3 211.6L548.2 200.1L548.3 199.8L548.5 200.6L549.3 207.6L550.3 200L551.4 213.3L552.1 216.4L552.6 216.9L553.7 217.2L557.7 217.3L560.4 216.9L561.3 216.4L561.8 215.9L562.3 214.3L562.7 210.2L563.9 179L564.8 195.7L565.2 199.1L565.6 197.2L566.3 184.9L566.5 183.9L566.6 184.7L567.6 209.2L568 213.5L568.4 214.7L568.9 213.5L569.8 207.3L569.9 207.2L570.1 207.6L570.9 211.9L571.2 211.1L572 206.5L573 213.3L573.4 214.2L574.7 206L575.7 211.5L576 211L576.8 206.4L577.7 210.3L577.9 210.5L578.3 210.3L578.5 210.6L579.6 215.3L580.2 215.8L580.9 215.2L581.4 213L581.7 209.4L582.8 185L583.7 196L583.8 196.1L583.9 195.8L584.4 192L584.6 192.6L585.5 204.8L585.8 203.8L586.6 193.8L587.4 199.7L587.5 199.9L587.6 199.8L588 197.8L588.1 197.5L588.2 197.7L589.3 212.3L589.7 214.9L590.3 216L591.4 216.5L593.5 216.7L596.6 216.7L597.9 216.4L598.6 214.8L599.7 208.1L600.7 214.3L601.2 215.9L601.6 216.4L602.4 216.5L603.9 216.5L604.8 216.2L605.3 215.4L605.7 213.5L606.5 204.5" stroke="#ff0000" stroke-width="1.9" fill="none" stroke-linejoin="round"/>
</g>
<path d="M55.5 1.5H606.5V294.5H55.5Z" stroke="#000" stroke-width="1" fill="none"/>
<path d="M55.5 294v-5M55.5 1v7M63.5 294v-2M63.5 1v4M71.5 294v-2M71.5 1v4M79.5 294v-2M79.5 1v4M86.5 294v-2M86.5 1v4M94.5 294v-5M94.5 1v7M102.5 294v-2M102.5 1v4M110.5 294v-2M110.5 1v4M118.5 294v-2M118.5 1v4M126.5 294v-2M126.5 1v4M134.5 294v-5M134.5 1v7M142.5 294v-2M142.5 1v4M149.5 294v-2M149.5 1v4M157.5 294v-2M157.5 1v4M165.5 294v-2M165.5 1v4M173.5 294v-5M173.5 1v7M181.5 294v-2M181.5 1v4M189.5 294v-2M189.5 1v4M197.5 294v-2M197.5 1v4M205.5 294v-2M205.5 1v4M212.5 294v-5M212.5 1v7M220.5 294v-2M220.5 1v4M228.5 294v-2M228.5 1v4M236.5 294v-2M236.5 1v4M244.5 294v-2M244.5 1v4M252.5 294v-5M252.5 1v7M260.5 294v-2M260.5 1v4M268.5 294v-2M268.5 1v4M275.5 294v-2M275.5 1v4M283.5 294v-2M283.5 1v4M291.5 294v-5M291.5 1v7M299.5 294v-2M299.5 1v4M307.5 294v-2M307.5 1v4M315.5 294v-2M315.5 1v4M323.5 294v-2M323.5 1v4M330.5 294v-5M330.5 1v7M338.5 294v-2M338.5 1v4M346.5 294v-2M346.5 1v4M354.5 294v-2M354.5 1v4M362.5 294v-2M362.5 1v4M370.5 294v-5M370.5 1v7M378.5 294v-2M378.5 1v4M386.5 294v-2M386.5 1v4M393.5 294v-2M393.5 1v4M401.5 294v-2M401.5 1v4M409.5 294v-5M409.5 1v7M417.5 294v-2M417.5 1v4M425.5 294v-2M425.5 1v4M433.5 294v-2M433.5 1v4M441.5 294v-2M441.5 1v4M449.5 294v-5M449.5 1v7M456.5 294v-2M456.5 1v4M464.5 294v-2M464.5 1v4M472.5 294v-2M472.5 1v4M480.5 294v-2M480.5 1v4M488.5 294v-5M488.5 1v7M496.5 294v-2M496.5 1v4M504.5 294v-2M504.5 1v4M512.5 294v-2M512.5 1v4M519.5 294v-2M519.5 1v4M527.5 294v-5M527.5 1v7M535.5 294v-2M535.5 1v4M543.5 294v-2M543.5 1v4M551.5 294v-2M551.5 1v4M559.5 294v-2M559.5 1v4M567.5 294v-5M567.5 1v7M575.5 294v-2M575.5 1v4M582.5 294v-2M582.5 1v4M590.5 294v-2M590.5 1v4M598.5 294v-2M598.5 1v4M606.5 294v-5M606.5 1v7M55 294.5h7M607 294.5h-6M55 287.5h4M607 287.5h-3M55 280.5h4M607 280.5h-3M55 273.5h4M607 273.5h-3M55 266.5h4M607 266.5h-3M55 259.5h7M607 259.5h-6M55 252.5h4M607 252.5h-3M55 245.5h4M607 245.5h-3M55 238.5h4M607 238.5h-3M55 231.5h4M607 231.5h-3M55 224.5h7M607 224.5h-6M55 217.5h4M607 217.5h-3M55 210.5h4M607 210.5h-3M55 203.5h4M607 203.5h-3M55 196.5h4M607 196.5h-3M55 189.5h7M607 189.5h-6M55 182.5h4M607 182.5h-3M55 175.5h4M607 175.5h-3M55 168.5h4M607 168.5h-3M55 161.5h4M607 161.5h-3M55 154.5h7M607 154.5h-6M55 148.5h4M607 148.5h-3M55 141.5h4M607 141.5h-3M55 134.5h4M607 134.5h-3M55 127.5h4M607 127.5h-3M55 120.5h7M607 120.5h-6M55 113.5h4M607 113.5h-3M55 106.5h4M607 106.5h-3M55 99.5h4M607 99.5h-3M55 92.5h4M607 92.5h-3M55 85.5h7M607 85.5h-6M55 78.5h4M607 78.5h-3M55 71.5h4M607 71.5h-3M55 64.5h4M607 64.5h-3M55 57.5h4M607 57.5h-3M55 50.5h7M607 50.5h-6M55 43.5h4M607 43.5h-3M55 36.5h4M607 36.5h-3M55 29.5h4M607 29.5h-3M55 22.5h4M607 22.5h-3M55 15.5h7M607 15.5h-6M55 8.5h4M607 8.5h-3M55 1.5h4M607 1.5h-3" stroke="#000" stroke-width="1" fill="none"/>
<g font-family="Liberation Sans, sans-serif" font-size="13" fill="#000">
<text transform="translate(48.9 299) scale(0.95 1)" font-size="13.6" text-anchor="end">-500</text>
<text transform="translate(48.9 264.1) scale(0.95 1)" font-size="13.6" text-anchor="end">-250</text>
<text transform="translate(48.9 229.2) scale(0.95 1)" font-size="13.6" text-anchor="end">0</text>
<text transform="translate(48.9 194.4) scale(0.95 1)" font-size="13.6" text-anchor="end">250</text>
<text transform="translate(48.9 159.5) scale(0.95 1)" font-size="13.6" text-anchor="end">500</text>
<text transform="translate(48.9 124.6) scale(0.95 1)" font-size="13.6" text-anchor="end">750</text>
<text transform="translate(48.9 89.8) scale(0.95 1)" font-size="13.6" text-anchor="end">1000</text>
<text transform="translate(48.9 54.9) scale(0.95 1)" font-size="13.6" text-anchor="end">1250</text>
<text transform="translate(48.9 20) scale(0.95 1)" font-size="13.6" text-anchor="end">1500</text>
<text x="55.5" y="311" text-anchor="middle">0.5</text>
<text x="94.9" y="311" text-anchor="middle">1.0</text>
<text x="134.2" y="311" text-anchor="middle">1.5</text>
<text x="173.6" y="311" text-anchor="middle">2.0</text>
<text x="212.9" y="311" text-anchor="middle">2.5</text>
<text x="252.3" y="311" text-anchor="middle">3.0</text>
<text x="291.6" y="311" text-anchor="middle">3.5</text>
<text x="331" y="311" text-anchor="middle">4.0</text>
<text x="370.4" y="311" text-anchor="middle">4.5</text>
<text x="409.7" y="311" text-anchor="middle">5.0</text>
<text x="449.1" y="311" text-anchor="middle">5.5</text>
<text x="488.4" y="311" text-anchor="middle">6.0</text>
<text x="527.8" y="311" text-anchor="middle">6.5</text>
<text x="567.1" y="311" text-anchor="middle">7.0</text>
<text x="606.5" y="311" text-anchor="middle">7.5</text>
</g>
<g font-family="Liberation Sans, sans-serif" fill="#000">
<text x="308.4" y="337.7" font-size="15.6">Q (&#197;<tspan font-size="10" dy="-6.5">-1</tspan><tspan dy="6.5">)</tspan></text>
<text transform="translate(14.4 147.0) rotate(-90)" font-size="15.9" text-anchor="middle">I(Q) (arb. un.)</text>
<text x="70.2" y="26.8" font-size="15.5">La(Fe<tspan font-size="9.5" dy="5.3">0.96</tspan><tspan dy="-5.3">Mn</tspan><tspan font-size="9.5" dy="5.3">0.04</tspan><tspan dy="-5.3">)AsO</tspan></text>
<text x="70.6" y="50.6" font-size="15.6" font-style="italic">T</text>
<text x="83" y="50.6" font-size="16.2">=10 K</text>
<g font-size="14.15">
<text x="509.5" y="25.2">Y<tspan font-size="9" dy="5">obs</tspan></text>
<text x="509.5" y="46.4">Y<tspan font-size="9" dy="5">calc</tspan></text>
<text x="509.5" y="67.6">Y<tspan font-size="9" dy="5">obs</tspan><tspan dy="-3.4">-</tspan><tspan dy="-1.6">Y</tspan><tspan font-size="9" dy="5">calc</tspan></text>
<text x="509.5" y="90">Bragg position</text>
</g>
</g>
<circle cx="489.8" cy="20.6" r="1.7" fill="#000"/>
<path d="M474 42.3H506" stroke="#ff0000" stroke-width="1.9" stroke-linecap="round"/>
<path d="M474 63.8H506" stroke="#0000ff" stroke-width="1.9" stroke-linecap="round"/>
<path d="M489.8 81V90" stroke="#1a8c1a" stroke-width="1"/>
</svg>
</body></html>
